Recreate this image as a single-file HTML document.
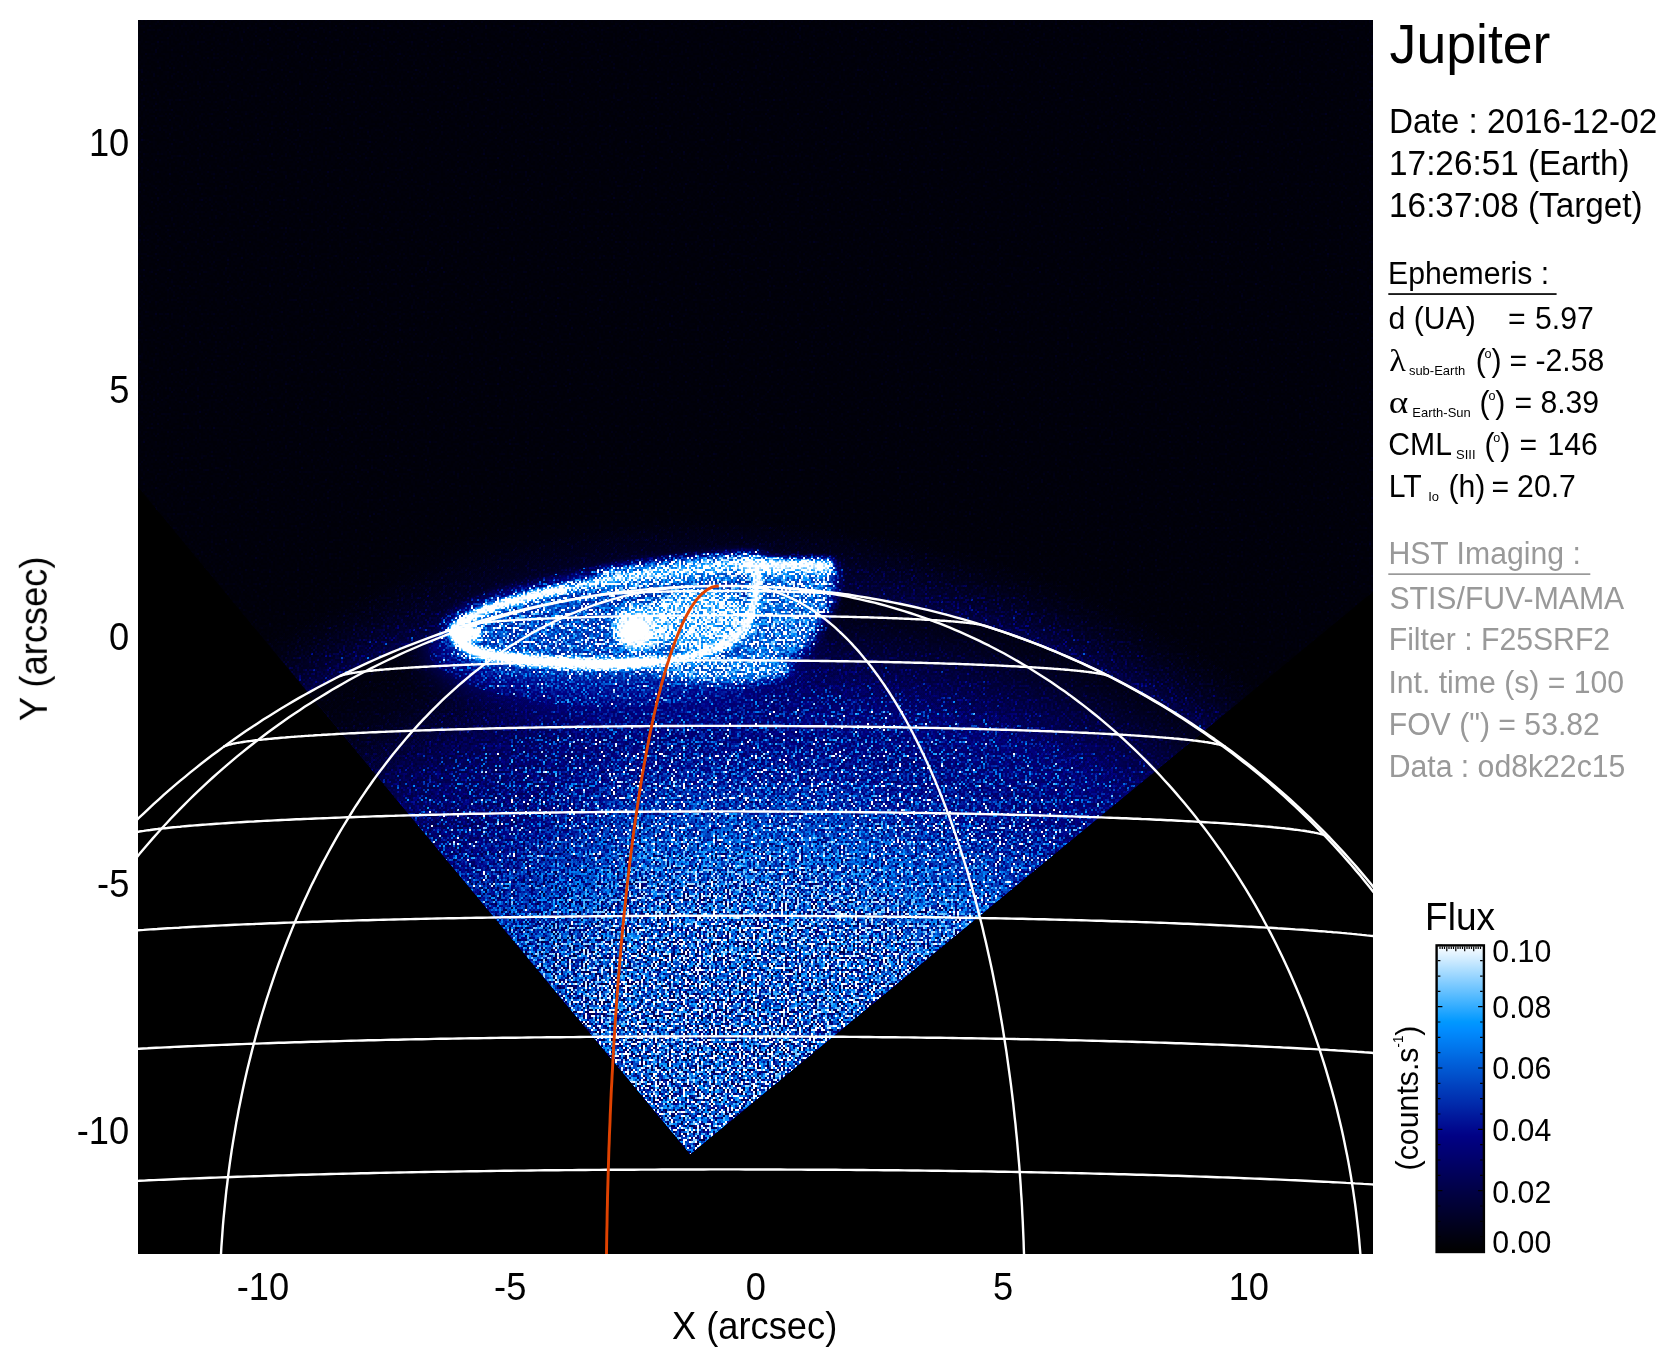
<!DOCTYPE html>
<html lang="en"><head><meta charset="utf-8"><title>Jupiter</title>
<style>
html,body{margin:0;padding:0;background:#fff;}
body{width:1676px;height:1367px;overflow:hidden;position:relative;}
svg{position:absolute;left:0;top:0;display:block;}
text{font-family:"Liberation Sans",sans-serif;}
.sym{font-family:"Liberation Serif","DejaVu Serif",serif;}
</style></head><body>
<svg width="1676" height="1367" viewBox="0 0 1676 1367">
<defs>
<clipPath id="plotclip"><rect x="138" y="20" width="1235" height="1234"/></clipPath>
<clipPath id="wedgeclip"><polygon points="-265.9,-1.2 690.2,1154.6 1847.6,200.5 1847.6,-500.0 -265.9,-500.0"/></clipPath>
<clipPath id="limbclip"><ellipse cx="724.5" cy="1346.4" rx="814.3" ry="760.5" transform="rotate(0.01 724.5 1346.4)"/></clipPath>
<filter id="noise" filterUnits="userSpaceOnUse" x="138" y="20" width="1235" height="1234" color-interpolation-filters="sRGB">
<feTurbulence type="fractalNoise" baseFrequency="0.43" numOctaves="1" seed="7" result="n0"/>
<feColorMatrix in="n0" type="matrix" values="1 0 0 0 0  0 0 0 0 0.1120  0 1 0 0 0  0 0 0 0 1" result="n1"/>
<feComponentTransfer in="n1" result="n"><feFuncR type="table" tableValues="0.000 0.000 0.000 0.000 0.000 0.000 0.000 0.000 0.000 0.000 0.000 0.000 0.001 0.002 0.004 0.007 0.012 0.020 0.030 0.044 0.062 0.086 0.116 0.153 0.198 0.252 0.316 0.393 0.482 0.586 0.706 0.843 1.000 1.000 1.000 1.000 1.000 1.000 1.000 1.000 1.000"/><feFuncB type="table" tableValues="0.000 0.000 0.000 0.000 0.000 0.000 0.000 0.000 0.000 0.000 0.000 0.000 0.000 0.000 0.000 0.000 0.083 0.188 0.292 0.396 0.500 0.604 0.708 0.813 0.917 1.000 1.000 1.000 1.000 1.000 1.000 1.000 1.000 1.000 1.000 1.000 1.000 1.000 1.000 1.000 1.000"/></feComponentTransfer>
<feFlood flood-color="#fff" x="138" y="20" width="1" height="1" result="d"/>
<feOffset in="d" dx="0" dy="0" x="138" y="20" width="2" height="2" result="cell"/>
<feTile in="cell" result="mask"/>
<feComposite in="n" in2="mask" operator="in" result="s"/>
<feConvolveMatrix in="s" order="2" kernelMatrix="1 1 1 1" divisor="1" targetX="0" targetY="0" edgeMode="none" preserveAlpha="false" result="ng"/>
<feComposite in="SourceGraphic" in2="ng" operator="arithmetic" k1="8.928" k2="0.000" k3="0" k4="0" result="v2"/>
<feColorMatrix in="v2" type="matrix" values="2 1 1 0 0  2 1 1 0 0  2 1 1 0 0  0 0 0 0 1" result="v"/>
<feComponentTransfer in="v">
<feFuncR type="table" tableValues="0.000 0.000 0.000 0.000 0.000 0.000 0.000 0.000 0.000 0.000 0.000 0.000 0.000 0.000 0.000 0.000 0.000 0.000 0.000 0.000 0.000 0.000 0.000 0.000 0.000 0.000 0.000 0.000 0.000 0.000 0.000 0.100 0.200 0.300 0.400 0.500 0.600 0.700 0.800 0.900 1.000"/>
<feFuncG type="table" tableValues="0.000 0.000 0.000 0.000 0.000 0.000 0.000 0.000 0.000 0.000 0.000 0.000 0.000 0.000 0.000 0.000 0.032 0.073 0.113 0.153 0.194 0.234 0.274 0.315 0.355 0.395 0.435 0.476 0.516 0.556 0.597 0.637 0.677 0.718 0.758 0.798 0.839 0.879 0.919 0.960 1.000"/>
<feFuncB type="table" tableValues="0.000 0.035 0.069 0.104 0.139 0.174 0.208 0.243 0.278 0.312 0.347 0.382 0.417 0.451 0.486 0.521 0.556 0.590 0.625 0.660 0.694 0.729 0.764 0.799 0.833 0.868 0.903 0.938 0.972 1.000 1.000 1.000 1.000 1.000 1.000 1.000 1.000 1.000 1.000 1.000 1.000"/>
</feComponentTransfer>
<feGaussianBlur stdDeviation="0.45"/>
</filter>
<filter id="b2" filterUnits="userSpaceOnUse" x="380" y="480" width="540" height="280"><feGaussianBlur stdDeviation="2"/></filter>
<filter id="b16" filterUnits="userSpaceOnUse" x="250" y="450" width="800" height="400"><feGaussianBlur stdDeviation="16"/></filter>
<filter id="bL" filterUnits="userSpaceOnUse" x="78" y="480" width="1355" height="500"><feGaussianBlur stdDeviation="9"/></filter>
<filter id="b3" filterUnits="userSpaceOnUse" x="380" y="480" width="540" height="280"><feGaussianBlur stdDeviation="3"/></filter>
<filter id="b6" filterUnits="userSpaceOnUse" x="380" y="480" width="540" height="280"><feGaussianBlur stdDeviation="6"/></filter>
<filter id="b4" filterUnits="userSpaceOnUse" x="380" y="480" width="540" height="280"><feGaussianBlur stdDeviation="4"/></filter>
<filter id="b8" filterUnits="userSpaceOnUse" x="380" y="480" width="540" height="280"><feGaussianBlur stdDeviation="8"/></filter>
<filter id="b20" filterUnits="userSpaceOnUse" x="38" y="300" width="1435" height="800"><feGaussianBlur stdDeviation="20"/></filter>
<radialGradient id="disc" gradientUnits="userSpaceOnUse" cx="724.5" cy="1346.4" r="814.3" gradientTransform="translate(0 1346.4) scale(1 0.9338) translate(0 -1346.4)">
<stop offset="0" stop-color="#033017"/>
<stop offset="0.55" stop-color="#043017"/>
<stop offset="0.62" stop-color="#0a3613"/>
<stop offset="0.68" stop-color="#16420a"/>
<stop offset="0.74" stop-color="#1b4204"/>
<stop offset="0.80" stop-color="#144201"/>
<stop offset="0.86" stop-color="#0e4001"/>
<stop offset="0.91" stop-color="#0a3d00"/>
<stop offset="0.95" stop-color="#083800"/>
<stop offset="1" stop-color="#062e00"/>
</radialGradient>
<radialGradient id="term" gradientUnits="userSpaceOnUse" cx="779.5" cy="1346.4" r="814.3" gradientTransform="translate(0 1346.4) scale(1 0.9338) translate(0 -1346.4)">
<stop offset="0" stop-color="#000" stop-opacity="0"/>
<stop offset="0.84" stop-color="#000" stop-opacity="0"/>
<stop offset="0.90" stop-color="#000" stop-opacity="0.35"/>
<stop offset="0.96" stop-color="#000" stop-opacity="0.7"/>
<stop offset="1" stop-color="#000" stop-opacity="0.8"/>
</radialGradient>
<radialGradient id="sky" gradientUnits="userSpaceOnUse" cx="724.5" cy="1346.4" r="912.0" gradientTransform="translate(0 1346.4) scale(1 0.9338) translate(0 -1346.4)">
<stop offset="0" stop-color="#092900"/>
<stop offset="0.8929" stop-color="#092900"/>
<stop offset="0.9036" stop-color="#082000"/>
<stop offset="0.9196" stop-color="#061600"/>
<stop offset="0.9420" stop-color="#030d00"/>
<stop offset="0.9687" stop-color="#010700"/>
<stop offset="1" stop-color="#010600"/>
</radialGradient>
<radialGradient id="glow">
<stop offset="0" stop-color="#011a00" stop-opacity="0.8"/>
<stop offset="0.5" stop-color="#011a00" stop-opacity="0.55"/>
<stop offset="0.8" stop-color="#011a00" stop-opacity="0.2"/>
<stop offset="1" stop-color="#011a00" stop-opacity="0"/>
</radialGradient>
<radialGradient id="ldim" gradientUnits="userSpaceOnUse" cx="420" cy="850" r="240">
<stop offset="0" stop-color="#000" stop-opacity="0.30"/>
<stop offset="0.5" stop-color="#000" stop-opacity="0.20"/>
<stop offset="1" stop-color="#000" stop-opacity="0"/>
</radialGradient>
<linearGradient id="cbar" x1="0" y1="1" x2="0" y2="0">
<stop offset="0.000" stop-color="#000000"/>
<stop offset="0.025" stop-color="#000008"/>
<stop offset="0.050" stop-color="#000011"/>
<stop offset="0.075" stop-color="#00001a"/>
<stop offset="0.100" stop-color="#000023"/>
<stop offset="0.125" stop-color="#00002c"/>
<stop offset="0.150" stop-color="#000035"/>
<stop offset="0.175" stop-color="#00003d"/>
<stop offset="0.200" stop-color="#000046"/>
<stop offset="0.225" stop-color="#00004f"/>
<stop offset="0.250" stop-color="#000058"/>
<stop offset="0.275" stop-color="#000061"/>
<stop offset="0.300" stop-color="#00006a"/>
<stop offset="0.325" stop-color="#000073"/>
<stop offset="0.350" stop-color="#00007b"/>
<stop offset="0.375" stop-color="#000084"/>
<stop offset="0.400" stop-color="#00088d"/>
<stop offset="0.425" stop-color="#001296"/>
<stop offset="0.450" stop-color="#001c9f"/>
<stop offset="0.475" stop-color="#0027a8"/>
<stop offset="0.500" stop-color="#0031b1"/>
<stop offset="0.525" stop-color="#003bb9"/>
<stop offset="0.550" stop-color="#0045c2"/>
<stop offset="0.575" stop-color="#0050cb"/>
<stop offset="0.600" stop-color="#005ad4"/>
<stop offset="0.625" stop-color="#0064dd"/>
<stop offset="0.650" stop-color="#006fe6"/>
<stop offset="0.675" stop-color="#0079ef"/>
<stop offset="0.700" stop-color="#0083f7"/>
<stop offset="0.725" stop-color="#008dff"/>
<stop offset="0.750" stop-color="#0098ff"/>
<stop offset="0.775" stop-color="#19a2ff"/>
<stop offset="0.800" stop-color="#33acff"/>
<stop offset="0.825" stop-color="#4cb7ff"/>
<stop offset="0.850" stop-color="#66c1ff"/>
<stop offset="0.875" stop-color="#7fcbff"/>
<stop offset="0.900" stop-color="#99d5ff"/>
<stop offset="0.925" stop-color="#b2e0ff"/>
<stop offset="0.950" stop-color="#cceaff"/>
<stop offset="0.975" stop-color="#e5f4ff"/>
<stop offset="1.000" stop-color="#ffffff"/>
</linearGradient>
</defs>
<rect x="0" y="0" width="1676" height="1367" fill="#fff"/>
<rect x="138" y="20" width="1235" height="1234" fill="#000"/>
<g clip-path="url(#plotclip)">
<g filter="url(#noise)">
<rect x="138" y="20" width="1235" height="1234" fill="#000"/>
<polygon points="-265.9,-1.2 690.2,1154.6 1847.6,200.5 1847.6,-500.0 -265.9,-500.0" fill="url(#sky)"/>
<g clip-path="url(#wedgeclip)"><ellipse cx="665" cy="600" rx="300" ry="85" fill="url(#glow)"/></g>
<g clip-path="url(#limbclip)"><g clip-path="url(#wedgeclip)"><polygon points="-265.9,-1.2 690.2,1154.6 1847.6,200.5 1847.6,-500.0 -265.9,-500.0" fill="url(#disc)"/>
<polygon points="-265.9,-1.2 690.2,1154.6 1847.6,200.5 1847.6,-500.0 -265.9,-500.0" fill="url(#term)"/>
<polygon points="-265.9,-1.2 690.2,1154.6 1847.6,200.5 1847.6,-500.0 -265.9,-500.0" fill="url(#ldim)"/>
<ellipse cx="615" cy="645" rx="190" ry="62" fill="#116600" filter="url(#b16)"/>
</g></g>
<g id="aurora">
<path d="M453 629 C462 620 480 611 506 603 C535 595 590 583 620 578.5 C660 572.5 720 565 757 565 C758 585 755 605 749 620 C742 636 725 647 700 654 C680 660 640 664 606 664 C560 664 495 658 477 652 C466 648 458 641 453 629 Z" fill="#246e00" stroke="#246e00" stroke-width="20" filter="url(#b6)"/>
<path d="M757 566 L838 566 L832 606 L806 650 L740 670 Z" fill="#298000" filter="url(#b6)"/>
<ellipse cx="722" cy="668" rx="70" ry="13" fill="#338c00" filter="url(#b4)"/>
<ellipse cx="700" cy="620" rx="52" ry="30" fill="#4ca800" filter="url(#b4)"/>
<path d="M600 581 C660 572.5 720 565 757 565" fill="none" stroke="#409100" stroke-width="20" filter="url(#b4)"/>
<path d="M453 629 C462 620 480 611 506 603 C535 595 590 583 620 578.5 C660 572.5 720 565 757 565" fill="none" stroke="#4cbd00" stroke-width="6.5" filter="url(#b2)"/>
<path d="M453 629 C462 620 480 611 506 603 C525 597.5 545 593 566 588.5" fill="none" stroke="#4cff00" stroke-width="6" filter="url(#b2)"/>
<path d="M453 629 C458 641 466 648 477 652 C495 658 560 664 606 664 C640 664 680 660 700 654 C725 647 742 636 749 620 C755 605 758 585 757 565" fill="none" stroke="#4cf500" stroke-width="8" filter="url(#b2)"/>
<path d="M453 629 C458 641 466 648 477 652 C495 658 560 664 606 664 C625 664 640 663 655 661.5" fill="none" stroke="#4cff00" stroke-width="9" filter="url(#b2)"/>
<ellipse cx="468" cy="633" rx="13" ry="9" fill="#4cff00" filter="url(#b3)"/>
<path d="M742 565 L832 566" fill="none" stroke="#4ceb00" stroke-width="12" filter="url(#b3)"/>
<ellipse cx="640" cy="628" rx="27" ry="22" fill="#4cc200" filter="url(#b4)"/>
<ellipse cx="635" cy="631" rx="16" ry="14" fill="#4cff00" filter="url(#b3)"/>
</g>
</g>
<g fill="none" stroke="#fff" stroke-width="2.4" stroke-linecap="butt" stroke-linejoin="round">
<path d="M1538.8 1346.5 L1538.8 1339.9 L1538.7 1333.3 L1538.5 1326.6 L1538.3 1320.0 L1538.0 1313.4 L1537.7 1306.7 L1537.3 1300.1 L1536.8 1293.5 L1536.3 1286.9 L1535.7 1280.3 L1535.0 1273.6 L1534.3 1267.0 L1533.6 1260.4 L1532.7 1253.9 L1531.8 1247.3 L1530.9 1240.7 L1529.9 1234.1 L1528.8 1227.6 L1527.6 1221.0 L1526.4 1214.5 L1525.2 1207.9 L1523.8 1201.4 L1522.5 1194.9 L1521.0 1188.4 L1519.5 1181.9 L1517.9 1175.5 L1516.3 1169.0 L1514.6 1162.6 L1512.9 1156.1 L1511.1 1149.7 L1509.2 1143.3 L1507.3 1136.9 L1505.3 1130.5 L1503.2 1124.2 L1501.1 1117.9 L1499.0 1111.5 L1496.7 1105.2 L1494.5 1098.9 L1492.1 1092.7 L1489.7 1086.4 L1487.3 1080.2 L1484.7 1074.0 L1482.2 1067.8 L1479.5 1061.6 L1476.8 1055.5 L1474.1 1049.4 L1471.3 1043.3 L1468.4 1037.2 L1465.5 1031.2 L1462.5 1025.1 L1459.5 1019.1 L1456.4 1013.2 L1453.3 1007.2 L1450.1 1001.3 L1446.8 995.4 L1443.5 989.5 L1440.2 983.7 L1436.7 977.8 L1433.3 972.0 L1429.7 966.3 L1426.2 960.5 L1422.5 954.8 L1418.9 949.2 L1415.1 943.5 L1411.3 937.9 L1407.5 932.3 L1403.6 926.8 L1399.6 921.3 L1395.6 915.8 L1391.6 910.3 L1387.5 904.9 L1383.3 899.5 L1379.1 894.2 L1374.9 888.8 L1370.6 883.6 L1366.2 878.3 L1361.8 873.1 L1357.4 867.9 L1352.9 862.8 L1348.4 857.7 L1343.8 852.6 L1339.1 847.6 L1334.4 842.6 L1329.7 837.6 L1324.9 832.7 L1320.1 827.9 L1315.2 823.0 L1310.3 818.2 L1305.4 813.5 L1300.4 808.8 L1295.3 804.1 L1290.2 799.5 L1285.1 794.9 L1279.9 790.3 L1274.7 785.8 L1269.4 781.3 L1264.1 776.9 L1258.8 772.6 L1253.4 768.2 L1248.0 763.9 L1242.5 759.7 L1237.0 755.5 L1231.5 751.3 L1225.9 747.2 L1220.3 743.2 L1214.6 739.1 L1208.9 735.2 L1203.2 731.2 L1197.4 727.4 L1191.6 723.5 L1185.8 719.8 L1179.9 716.0 L1174.0 712.3 L1168.1 708.7 L1162.1 705.1 L1156.1 701.6 L1150.1 698.1 L1144.0 694.6 L1137.9 691.2 L1131.7 687.9 L1125.6 684.6 L1119.4 681.3 L1113.1 678.1 L1106.9 675.0 L1100.6 671.9 L1094.3 668.9 L1087.9 665.9 L1081.6 663.0 L1075.2 660.1 L1068.7 657.2 L1062.3 654.5 L1055.8 651.7 L1049.3 649.1 L1042.8 646.4 L1036.2 643.9 L1029.6 641.4 L1023.0 638.9 L1016.4 636.5 L1009.8 634.1 L1003.1 631.8 L996.4 629.6 L989.7 627.4 L983.0 625.3 L976.2 623.2 L969.5 621.2 L962.7 619.2 L955.9 617.3 L949.0 615.4 L942.2 613.6 L935.4 611.9 L928.5 610.2 L921.6 608.6 L914.7 607.0 L907.8 605.5 L900.8 604.0 L893.9 602.6 L886.9 601.2 L880.0 599.9 L873.0 598.7 L866.0 597.5 L859.0 596.4 L852.0 595.3 L845.0 594.3 L837.9 593.3 L830.9 592.5 L823.8 591.6 L816.8 590.8 L809.7 590.1 L802.6 589.4 L795.6 588.8 L788.5 588.3 L781.4 587.8 L774.3 587.4 L767.2 587.0 L760.1 586.7 L753.0 586.4 L745.9 586.2 L738.8 586.0 L731.7 586.0 L724.6 585.9 L717.5 586.0 L710.4 586.0 L703.3 586.2 L696.2 586.4 L689.1 586.6 L682.0 587.0 L674.9 587.3 L667.8 587.8 L660.7 588.3 L653.6 588.8 L646.5 589.4 L639.5 590.1 L632.4 590.8 L625.4 591.6 L618.3 592.4 L611.3 593.3 L604.2 594.3 L597.2 595.3 L590.2 596.3 L583.2 597.5 L576.2 598.6 L569.2 599.9 L562.2 601.2 L555.3 602.5 L548.3 603.9 L541.4 605.4 L534.5 606.9 L527.6 608.5 L520.7 610.1 L513.8 611.8 L507.0 613.6 L500.1 615.4 L493.3 617.2 L486.5 619.1 L479.7 621.1 L473.0 623.1 L466.2 625.2 L459.5 627.3 L452.8 629.5 L446.1 631.7 L439.4 634.0 L432.8 636.4 L426.1 638.8 L419.5 641.3 L413.0 643.8 L406.4 646.3 L399.9 649.0 L393.4 651.6 L386.9 654.4 L380.4 657.1 L374.0 660.0 L367.6 662.8 L361.2 665.8 L354.9 668.8 L348.6 671.8 L342.3 674.9 L336.0 678.0 L329.8 681.2 L323.6 684.5 L317.4 687.8 L311.3 691.1 L305.2 694.5 L299.1 697.9 L293.1 701.4 L287.0 705.0 L281.1 708.5 L275.1 712.2 L269.2 715.9 L263.3 719.6 L257.5 723.4 L251.7 727.2 L245.9 731.1 L240.2 735.0 L234.5 739.0 L228.9 743.0 L223.2 747.1 L217.7 751.2 L212.1 755.3 L206.6 759.5 L201.1 763.8 L195.7 768.1 L190.3 772.4 L185.0 776.8 L179.7 781.2 L174.4 785.6 L169.2 790.1 L164.0 794.7 L158.9 799.3 L153.8 803.9 L148.8 808.6 L143.8 813.3 L138.8 818.0 L133.9 822.8 L129.0 827.7 L124.2 832.5 L119.4 837.5 L114.7 842.4 L110.0 847.4 L105.3 852.4 L100.8 857.5 L96.2 862.6 L91.7 867.7 L87.3 872.9 L82.9 878.1 L78.5 883.4 L74.2 888.6 L70.0 894.0 L65.8 899.3 L61.6 904.7 L57.5 910.1 L53.5 915.6 L49.5 921.0 L45.5 926.6 L41.6 932.1 L37.8 937.7 L34.0 943.3 L30.2 949.0 L26.5 954.6 L22.9 960.3 L19.3 966.1 L15.8 971.8 L12.3 977.6 L8.9 983.4 L5.5 989.3 L2.2 995.1 L-1.0 1001.0 L-4.2 1007.0 L-7.4 1012.9 L-10.5 1018.9 L-13.5 1024.9 L-16.5 1030.9 L-19.4 1037.0 L-22.2 1043.1 L-25.1 1049.1 L-27.8 1055.3 L-30.5 1061.4 L-33.1 1067.6 L-35.7 1073.8 L-38.2 1080.0 L-40.7 1086.2 L-43.1 1092.4 L-45.4 1098.7 L-47.7 1105.0 L-49.9 1111.3 L-52.1 1117.6 L-54.2 1123.9 L-56.3 1130.3 L-58.3 1136.7 L-60.2 1143.1 L-62.1 1149.5 L-63.9 1155.9 L-65.6 1162.3 L-67.3 1168.8 L-68.9 1175.2 L-70.5 1181.7 L-72.0 1188.2 L-73.5 1194.7 L-74.8 1201.2 L-76.2 1207.7 L-77.4 1214.2 L-78.6 1220.8 L-79.8 1227.3 L-80.9 1233.9 L-81.9 1240.4 L-82.9 1247.0 L-83.7 1253.6 L-84.6 1260.2 L-85.4 1266.8 L-86.1 1273.4 L-86.7 1280.0 L-87.3 1286.6 L-87.8 1293.2 L-88.3 1299.9 L-88.7 1306.5 L-89.1 1313.1 L-89.3 1319.7 L-89.6 1326.4 L-89.7 1333.0 L-89.8 1339.6 L-89.8 1346.3 L-89.8 1352.9 L-89.7 1359.6 L-89.6 1366.2 L-89.3 1372.8 L-89.1 1379.5 L-88.7 1386.1 L-88.3 1392.7 L-87.9 1399.3 L-87.3 1405.9 L-86.7 1412.6 L-86.1 1419.2 L-85.4 1425.8 L-84.6 1432.4 L-83.8 1439.0 L-82.9 1445.5 L-81.9 1452.1 L-80.9 1458.7 L-79.8 1465.2 L-78.7 1471.8 L-77.5 1478.3 L-76.2 1484.9 L-74.9 1491.4 L-73.5 1497.9 L-72.1 1504.4 L-70.6 1510.9 L-69.0 1517.4 L-67.4 1523.8 L-65.7 1530.3 L-63.9 1536.7 L-62.1 1543.1 L-60.2 1549.5 L-58.3 1555.9 L-56.3 1562.3 M1505.2 1562.5 L1507.2 1556.1 L1509.1 1549.8 L1511.0 1543.4 L1512.8 1536.9 L1514.6 1530.5 L1516.3 1524.1 L1517.9 1517.6 L1519.5 1511.1 L1521.0 1504.6 L1522.4 1498.1 L1523.8 1491.6 L1525.1 1485.1 L1526.4 1478.6 L1527.6 1472.0 L1528.7 1465.5 L1529.8 1458.9 L1530.8 1452.4 L1531.8 1445.8 L1532.7 1439.2 L1533.5 1432.6 L1534.3 1426.0 L1535.0 1419.4 L1535.7 1412.8 L1536.3 1406.2 L1536.8 1399.6 L1537.3 1393.0 L1537.7 1386.3 L1538.0 1379.7 L1538.3 1373.1 L1538.5 1366.4 L1538.7 1359.8 L1538.8 1353.2 L1538.8 1346.5"/>
<path d="M-75.5 1204.7 L-75.4 1204.4 L-75.2 1204.1 L-74.9 1203.8 L-74.6 1203.4 L-74.2 1203.1 L-73.7 1202.8 L-73.2 1202.5 L-72.6 1202.2 L-72.0 1201.9 L-71.3 1201.6 L-70.5 1201.3 L-69.7 1200.9 L-68.8 1200.6 L-67.9 1200.3 L-66.9 1200.0 L-65.8 1199.7 L-64.7 1199.4 L-63.5 1199.1 L-62.3 1198.8 L-61.0 1198.5 L-59.6 1198.2 L-58.2 1197.8 L-56.7 1197.5 L-55.2 1197.2 L-53.6 1196.9 L-51.9 1196.6 L-50.2 1196.3 L-48.4 1196.0 L-46.6 1195.7 L-44.7 1195.4 L-42.7 1195.1 L-40.7 1194.8 L-38.6 1194.5 L-36.5 1194.2 L-34.3 1193.9 L-32.1 1193.6 L-29.8 1193.3 L-27.4 1193.0 L-25.0 1192.7 L-22.5 1192.4 L-20.0 1192.1 L-17.4 1191.9 L-14.8 1191.6 L-12.1 1191.3 L-9.3 1191.0 L-6.5 1190.7 L-3.6 1190.4 L-0.7 1190.1 L2.3 1189.8 L5.3 1189.6 L8.4 1189.3 L11.5 1189.0 L14.7 1188.7 L18.0 1188.4 L21.3 1188.2 L24.7 1187.9 L28.1 1187.6 L31.5 1187.3 L35.1 1187.1 L38.6 1186.8 L42.2 1186.5 L45.9 1186.3 L49.6 1186.0 L53.4 1185.7 L57.3 1185.5 L61.1 1185.2 L65.1 1185.0 L69.0 1184.7 L73.1 1184.4 L77.2 1184.2 L81.3 1183.9 L85.5 1183.7 L89.7 1183.4 L94.0 1183.2 L98.3 1182.9 L102.7 1182.7 L107.1 1182.5 L111.5 1182.2 L116.1 1182.0 L120.6 1181.7 L125.2 1181.5 L129.9 1181.3 L134.6 1181.0 L139.3 1180.8 L144.1 1180.6 L148.9 1180.3 L153.8 1180.1 L158.7 1179.9 L163.7 1179.7 L168.7 1179.5 L173.7 1179.2 L178.8 1179.0 L183.9 1178.8 L189.1 1178.6 L194.3 1178.4 L199.5 1178.2 L204.8 1178.0 L210.2 1177.8 L215.5 1177.6 L220.9 1177.4 L226.4 1177.2 L231.9 1177.0 L237.4 1176.8 L243.0 1176.6 L248.5 1176.4 L254.2 1176.2 L259.8 1176.1 L265.5 1175.9 L271.3 1175.7 L277.1 1175.5 L282.9 1175.4 L288.7 1175.2 L294.6 1175.0 L300.5 1174.8 L306.4 1174.7 L312.4 1174.5 L318.4 1174.4 L324.4 1174.2 L330.5 1174.0 L336.6 1173.9 L342.7 1173.7 L348.8 1173.6 L355.0 1173.5 L361.2 1173.3 L367.5 1173.2 L373.7 1173.0 L380.0 1172.9 L386.3 1172.8 L392.7 1172.6 L399.0 1172.5 L405.4 1172.4 L411.9 1172.3 L418.3 1172.1 L424.8 1172.0 L431.2 1171.9 L437.7 1171.8 L444.3 1171.7 L450.8 1171.6 L457.4 1171.5 L464.0 1171.4 L470.6 1171.3 L477.2 1171.2 L483.9 1171.1 L490.6 1171.0 L497.2 1170.9 L503.9 1170.8 L510.7 1170.7 L517.4 1170.6 L524.2 1170.6 L530.9 1170.5 L537.7 1170.4 L544.5 1170.3 L551.3 1170.3 L558.1 1170.2 L565.0 1170.1 L571.8 1170.1 L578.7 1170.0 L585.6 1170.0 L592.4 1169.9 L599.3 1169.9 L606.2 1169.8 L613.1 1169.8 L620.1 1169.7 L627.0 1169.7 L633.9 1169.7 L640.9 1169.6 L647.8 1169.6 L654.8 1169.6 L661.7 1169.5 L668.7 1169.5 L675.7 1169.5 L682.6 1169.5 L689.6 1169.5 L696.6 1169.5 L703.6 1169.5 L710.5 1169.4 L717.5 1169.4 L724.5 1169.4 L731.5 1169.4 L738.5 1169.4 L745.5 1169.5 L752.4 1169.5 L759.4 1169.5 L766.4 1169.5 L773.4 1169.5 L780.3 1169.5 L787.3 1169.6 L794.2 1169.6 L801.2 1169.6 L808.1 1169.7 L815.1 1169.7 L822.0 1169.7 L828.9 1169.8 L835.9 1169.8 L842.8 1169.9 L849.7 1169.9 L856.6 1170.0 L863.5 1170.0 L870.3 1170.1 L877.2 1170.1 L884.0 1170.2 L890.9 1170.3 L897.7 1170.3 L904.5 1170.4 L911.3 1170.5 L918.1 1170.5 L924.9 1170.6 L931.6 1170.7 L938.3 1170.8 L945.1 1170.9 L951.8 1171.0 L958.5 1171.1 L965.1 1171.1 L971.8 1171.2 L978.4 1171.3 L985.0 1171.4 L991.6 1171.5 L998.2 1171.7 L1004.7 1171.8 L1011.3 1171.9 L1017.8 1172.0 L1024.3 1172.1 L1030.7 1172.2 L1037.2 1172.4 L1043.6 1172.5 L1050.0 1172.6 L1056.3 1172.7 L1062.7 1172.9 L1069.0 1173.0 L1075.3 1173.1 L1081.5 1173.3 L1087.8 1173.4 L1094.0 1173.6 L1100.2 1173.7 L1106.3 1173.9 L1112.4 1174.0 L1118.5 1174.2 L1124.6 1174.3 L1130.6 1174.5 L1136.6 1174.7 L1142.6 1174.8 L1148.5 1175.0 L1154.4 1175.1 L1160.3 1175.3 L1166.1 1175.5 L1172.0 1175.7 L1177.7 1175.8 L1183.5 1176.0 L1189.2 1176.2 L1194.8 1176.4 L1200.5 1176.6 L1206.1 1176.8 L1211.6 1177.0 L1217.1 1177.2 L1222.6 1177.4 L1228.1 1177.5 L1233.5 1177.7 L1238.8 1177.9 L1244.2 1178.2 L1249.5 1178.4 L1254.7 1178.6 L1259.9 1178.8 L1265.1 1179.0 L1270.2 1179.2 L1275.3 1179.4 L1280.3 1179.6 L1285.3 1179.9 L1290.3 1180.1 L1295.2 1180.3 L1300.1 1180.5 L1304.9 1180.8 L1309.7 1181.0 L1314.4 1181.2 L1319.1 1181.5 L1323.8 1181.7 L1328.4 1181.9 L1333.0 1182.2 L1337.5 1182.4 L1341.9 1182.6 L1346.3 1182.9 L1350.7 1183.1 L1355.0 1183.4 L1359.3 1183.6 L1363.5 1183.9 L1367.7 1184.1 L1371.9 1184.4 L1375.9 1184.6 L1380.0 1184.9 L1383.9 1185.2 L1387.9 1185.4 L1391.8 1185.7 L1395.6 1185.9 L1399.4 1186.2 L1403.1 1186.5 L1406.8 1186.7 L1410.4 1187.0 L1413.9 1187.3 L1417.5 1187.6 L1420.9 1187.8 L1424.3 1188.1 L1427.7 1188.4 L1431.0 1188.7 L1434.3 1188.9 L1437.5 1189.2 L1440.6 1189.5 L1443.7 1189.8 L1446.7 1190.1 L1449.7 1190.4 L1452.6 1190.6 L1455.5 1190.9 L1458.3 1191.2 L1461.1 1191.5 L1463.8 1191.8 L1466.4 1192.1 L1469.0 1192.4 L1471.5 1192.7 L1474.0 1193.0 L1476.4 1193.3 L1478.8 1193.6 L1481.1 1193.9 L1483.3 1194.2 L1485.5 1194.4 L1487.6 1194.7 L1489.7 1195.0 L1491.7 1195.4 L1493.7 1195.7 L1495.6 1196.0 L1497.4 1196.3 L1499.2 1196.6 L1500.9 1196.9 L1502.6 1197.2 L1504.2 1197.5 L1505.7 1197.8 L1507.2 1198.1 L1508.6 1198.4 L1510.0 1198.7 L1511.3 1199.0 L1512.5 1199.3 L1513.7 1199.6 L1514.8 1200.0 L1515.9 1200.3 L1516.9 1200.6 L1517.8 1200.9 L1518.7 1201.2 L1519.5 1201.5 L1520.3 1201.8 L1521.0 1202.1 L1521.6 1202.4 L1522.2 1202.8 L1522.7 1203.1 L1523.2 1203.4 L1523.6 1203.7 L1523.9 1204.0 L1524.2 1204.3 L1524.4 1204.6 L1524.5 1205.0"/>
<path d="M-33.9 1069.5 L-33.7 1069.2 L-33.5 1068.9 L-33.1 1068.6 L-32.8 1068.3 L-32.3 1068.0 L-31.8 1067.7 L-31.3 1067.4 L-30.7 1067.1 L-30.0 1066.9 L-29.3 1066.6 L-28.5 1066.3 L-27.7 1066.0 L-26.8 1065.7 L-25.9 1065.4 L-24.8 1065.1 L-23.8 1064.8 L-22.7 1064.5 L-21.5 1064.2 L-20.2 1063.9 L-19.0 1063.6 L-17.6 1063.3 L-16.2 1063.0 L-14.7 1062.7 L-13.2 1062.5 L-11.7 1062.2 L-10.0 1061.9 L-8.3 1061.6 L-6.6 1061.3 L-4.8 1061.0 L-2.9 1060.7 L-1.0 1060.4 L0.9 1060.2 L2.9 1059.9 L5.0 1059.6 L7.1 1059.3 L9.3 1059.0 L11.6 1058.7 L13.9 1058.5 L16.2 1058.2 L18.6 1057.9 L21.1 1057.6 L23.6 1057.4 L26.1 1057.1 L28.7 1056.8 L31.4 1056.5 L34.1 1056.3 L36.9 1056.0 L39.7 1055.7 L42.6 1055.5 L45.5 1055.2 L48.5 1054.9 L51.5 1054.7 L54.6 1054.4 L57.8 1054.1 L60.9 1053.9 L64.2 1053.6 L67.5 1053.4 L70.8 1053.1 L74.2 1052.8 L77.6 1052.6 L81.1 1052.3 L84.6 1052.1 L88.2 1051.8 L91.8 1051.6 L95.5 1051.3 L99.3 1051.1 L103.0 1050.9 L106.8 1050.6 L110.7 1050.4 L114.6 1050.1 L118.6 1049.9 L122.6 1049.7 L126.7 1049.4 L130.8 1049.2 L134.9 1049.0 L139.1 1048.7 L143.3 1048.5 L147.6 1048.3 L151.9 1048.0 L156.3 1047.8 L160.7 1047.6 L165.1 1047.4 L169.6 1047.2 L174.2 1046.9 L178.8 1046.7 L183.4 1046.5 L188.0 1046.3 L192.7 1046.1 L197.5 1045.9 L202.3 1045.7 L207.1 1045.5 L211.9 1045.3 L216.8 1045.1 L221.8 1044.9 L226.8 1044.7 L231.8 1044.5 L236.8 1044.3 L241.9 1044.1 L247.1 1043.9 L252.2 1043.7 L257.4 1043.6 L262.7 1043.4 L267.9 1043.2 L273.2 1043.0 L278.6 1042.8 L283.9 1042.7 L289.3 1042.5 L294.8 1042.3 L300.3 1042.2 L305.8 1042.0 L311.3 1041.8 L316.9 1041.7 L322.5 1041.5 L328.1 1041.4 L333.8 1041.2 L339.5 1041.1 L345.2 1040.9 L350.9 1040.8 L356.7 1040.6 L362.5 1040.5 L368.3 1040.3 L374.2 1040.2 L380.1 1040.1 L386.0 1039.9 L391.9 1039.8 L397.9 1039.7 L403.9 1039.5 L409.9 1039.4 L415.9 1039.3 L422.0 1039.2 L428.1 1039.1 L434.2 1038.9 L440.3 1038.8 L446.5 1038.7 L452.6 1038.6 L458.8 1038.5 L465.0 1038.4 L471.3 1038.3 L477.5 1038.2 L483.8 1038.1 L490.1 1038.0 L496.4 1037.9 L502.7 1037.8 L509.0 1037.8 L515.4 1037.7 L521.8 1037.6 L528.2 1037.5 L534.6 1037.4 L541.0 1037.4 L547.4 1037.3 L553.9 1037.2 L560.3 1037.2 L566.8 1037.1 L573.3 1037.1 L579.8 1037.0 L586.3 1036.9 L592.8 1036.9 L599.3 1036.8 L605.8 1036.8 L612.4 1036.7 L618.9 1036.7 L625.5 1036.7 L632.1 1036.6 L638.6 1036.6 L645.2 1036.6 L651.8 1036.5 L658.4 1036.5 L665.0 1036.5 L671.6 1036.5 L678.2 1036.4 L684.8 1036.4 L691.4 1036.4 L698.0 1036.4 L704.7 1036.4 L711.3 1036.4 L717.9 1036.4 L724.5 1036.4 L731.1 1036.4 L737.8 1036.4 L744.4 1036.4 L751.0 1036.4 L757.6 1036.4 L764.2 1036.4 L770.8 1036.5 L777.5 1036.5 L784.1 1036.5 L790.7 1036.5 L797.2 1036.6 L803.8 1036.6 L810.4 1036.6 L817.0 1036.7 L823.6 1036.7 L830.1 1036.7 L836.7 1036.8 L843.2 1036.8 L849.7 1036.9 L856.3 1036.9 L862.8 1037.0 L869.3 1037.0 L875.8 1037.1 L882.3 1037.2 L888.7 1037.2 L895.2 1037.3 L901.6 1037.4 L908.1 1037.4 L914.5 1037.5 L920.9 1037.6 L927.3 1037.7 L933.7 1037.7 L940.0 1037.8 L946.4 1037.9 L952.7 1038.0 L959.0 1038.1 L965.3 1038.2 L971.5 1038.3 L977.8 1038.4 L984.0 1038.5 L990.2 1038.6 L996.4 1038.7 L1002.6 1038.8 L1008.7 1038.9 L1014.9 1039.0 L1021.0 1039.2 L1027.1 1039.3 L1033.1 1039.4 L1039.2 1039.5 L1045.2 1039.6 L1051.2 1039.8 L1057.1 1039.9 L1063.1 1040.0 L1069.0 1040.2 L1074.9 1040.3 L1080.7 1040.4 L1086.5 1040.6 L1092.4 1040.7 L1098.1 1040.9 L1103.9 1041.0 L1109.6 1041.2 L1115.3 1041.3 L1120.9 1041.5 L1126.6 1041.6 L1132.2 1041.8 L1137.7 1042.0 L1143.3 1042.1 L1148.8 1042.3 L1154.3 1042.5 L1159.7 1042.6 L1165.1 1042.8 L1170.5 1043.0 L1175.8 1043.2 L1181.1 1043.3 L1186.4 1043.5 L1191.6 1043.7 L1196.8 1043.9 L1202.0 1044.1 L1207.1 1044.3 L1212.2 1044.5 L1217.3 1044.6 L1222.3 1044.8 L1227.3 1045.0 L1232.2 1045.2 L1237.1 1045.4 L1242.0 1045.6 L1246.8 1045.8 L1251.6 1046.1 L1256.3 1046.3 L1261.0 1046.5 L1265.7 1046.7 L1270.3 1046.9 L1274.9 1047.1 L1279.4 1047.3 L1283.9 1047.6 L1288.4 1047.8 L1292.8 1048.0 L1297.1 1048.2 L1301.5 1048.5 L1305.7 1048.7 L1310.0 1048.9 L1314.2 1049.1 L1318.3 1049.4 L1322.4 1049.6 L1326.4 1049.8 L1330.5 1050.1 L1334.4 1050.3 L1338.3 1050.6 L1342.2 1050.8 L1346.0 1051.0 L1349.8 1051.3 L1353.5 1051.5 L1357.2 1051.8 L1360.8 1052.0 L1364.4 1052.3 L1367.9 1052.5 L1371.4 1052.8 L1374.9 1053.1 L1378.2 1053.3 L1381.6 1053.6 L1384.9 1053.8 L1388.1 1054.1 L1391.3 1054.3 L1394.4 1054.6 L1397.5 1054.9 L1400.5 1055.1 L1403.5 1055.4 L1406.4 1055.7 L1409.3 1055.9 L1412.1 1056.2 L1414.9 1056.5 L1417.6 1056.8 L1420.3 1057.0 L1422.9 1057.3 L1425.5 1057.6 L1428.0 1057.9 L1430.4 1058.1 L1432.8 1058.4 L1435.2 1058.7 L1437.5 1059.0 L1439.7 1059.3 L1441.9 1059.5 L1444.0 1059.8 L1446.1 1060.1 L1448.1 1060.4 L1450.1 1060.7 L1452.0 1061.0 L1453.8 1061.2 L1455.6 1061.5 L1457.4 1061.8 L1459.1 1062.1 L1460.7 1062.4 L1462.3 1062.7 L1463.8 1063.0 L1465.2 1063.3 L1466.7 1063.6 L1468.0 1063.8 L1469.3 1064.1 L1470.5 1064.4 L1471.7 1064.7 L1472.8 1065.0 L1473.9 1065.3 L1474.9 1065.6 L1475.8 1065.9 L1476.7 1066.2 L1477.6 1066.5 L1478.4 1066.8 L1479.1 1067.1 L1479.7 1067.4 L1480.3 1067.7 L1480.9 1068.0 L1481.4 1068.3 L1481.8 1068.6 L1482.2 1068.9 L1482.5 1069.2 L1482.8 1069.5 L1483.0 1069.8"/>
<path d="M32.4 945.7 L32.6 945.5 L32.9 945.2 L33.2 944.9 L33.6 944.7 L34.1 944.4 L34.6 944.1 L35.1 943.8 L35.7 943.6 L36.4 943.3 L37.1 943.0 L37.9 942.8 L38.7 942.5 L39.5 942.2 L40.5 942.0 L41.4 941.7 L42.5 941.4 L43.5 941.1 L44.7 940.9 L45.8 940.6 L47.1 940.3 L48.4 940.1 L49.7 939.8 L51.1 939.6 L52.5 939.3 L54.0 939.0 L55.5 938.8 L57.1 938.5 L58.8 938.2 L60.5 938.0 L62.2 937.7 L64.0 937.5 L65.8 937.2 L67.7 936.9 L69.7 936.7 L71.7 936.4 L73.7 936.2 L75.8 935.9 L77.9 935.7 L80.1 935.4 L82.4 935.2 L84.7 934.9 L87.0 934.7 L89.4 934.4 L91.8 934.2 L94.3 933.9 L96.8 933.7 L99.4 933.4 L102.0 933.2 L104.7 932.9 L107.4 932.7 L110.2 932.4 L113.0 932.2 L115.9 932.0 L118.8 931.7 L121.7 931.5 L124.7 931.3 L127.8 931.0 L130.9 930.8 L134.0 930.6 L137.2 930.3 L140.4 930.1 L143.7 929.9 L147.0 929.6 L150.3 929.4 L153.7 929.2 L157.2 929.0 L160.7 928.7 L164.2 928.5 L167.8 928.3 L171.4 928.1 L175.1 927.9 L178.8 927.7 L182.5 927.4 L186.3 927.2 L190.1 927.0 L194.0 926.8 L197.9 926.6 L201.8 926.4 L205.8 926.2 L209.8 926.0 L213.9 925.8 L218.0 925.6 L222.1 925.4 L226.3 925.2 L230.5 925.0 L234.8 924.8 L239.1 924.6 L243.4 924.4 L247.8 924.2 L252.2 924.1 L256.6 923.9 L261.1 923.7 L265.6 923.5 L270.2 923.3 L274.7 923.2 L279.3 923.0 L284.0 922.8 L288.7 922.6 L293.4 922.5 L298.1 922.3 L302.9 922.1 L307.7 922.0 L312.6 921.8 L317.4 921.7 L322.3 921.5 L327.3 921.3 L332.2 921.2 L337.2 921.0 L342.3 920.9 L347.3 920.7 L352.4 920.6 L357.5 920.4 L362.7 920.3 L367.8 920.2 L373.0 920.0 L378.2 919.9 L383.5 919.7 L388.8 919.6 L394.1 919.5 L399.4 919.4 L404.7 919.2 L410.1 919.1 L415.5 919.0 L420.9 918.9 L426.4 918.8 L431.8 918.6 L437.3 918.5 L442.8 918.4 L448.4 918.3 L453.9 918.2 L459.5 918.1 L465.1 918.0 L470.7 917.9 L476.3 917.8 L482.0 917.7 L487.7 917.6 L493.3 917.5 L499.1 917.4 L504.8 917.3 L510.5 917.3 L516.3 917.2 L522.0 917.1 L527.8 917.0 L533.6 916.9 L539.5 916.9 L545.3 916.8 L551.1 916.7 L557.0 916.7 L562.9 916.6 L568.7 916.5 L574.6 916.5 L580.5 916.4 L586.5 916.4 L592.4 916.3 L598.3 916.3 L604.3 916.2 L610.2 916.2 L616.2 916.1 L622.2 916.1 L628.2 916.0 L634.1 916.0 L640.1 916.0 L646.1 915.9 L652.1 915.9 L658.2 915.9 L664.2 915.9 L670.2 915.8 L676.2 915.8 L682.3 915.8 L688.3 915.8 L694.3 915.8 L700.4 915.8 L706.4 915.8 L712.5 915.8 L718.5 915.8 L724.5 915.8 L730.6 915.8 L736.6 915.8 L742.7 915.8 L748.7 915.8 L754.8 915.8 L760.8 915.8 L766.8 915.8 L772.9 915.8 L778.9 915.9 L784.9 915.9 L790.9 915.9 L796.9 915.9 L802.9 916.0 L809.0 916.0 L814.9 916.0 L820.9 916.1 L826.9 916.1 L832.9 916.2 L838.9 916.2 L844.8 916.3 L850.8 916.3 L856.7 916.4 L862.6 916.4 L868.5 916.5 L874.5 916.5 L880.3 916.6 L886.2 916.6 L892.1 916.7 L898.0 916.8 L903.8 916.9 L909.6 916.9 L915.5 917.0 L921.3 917.1 L927.0 917.2 L932.8 917.2 L938.6 917.3 L944.3 917.4 L950.0 917.5 L955.7 917.6 L961.4 917.7 L967.1 917.8 L972.8 917.9 L978.4 918.0 L984.0 918.1 L989.6 918.2 L995.2 918.3 L1000.7 918.4 L1006.3 918.5 L1011.8 918.6 L1017.3 918.7 L1022.7 918.8 L1028.2 919.0 L1033.6 919.1 L1039.0 919.2 L1044.4 919.3 L1049.7 919.5 L1055.0 919.6 L1060.3 919.7 L1065.6 919.9 L1070.8 920.0 L1076.1 920.1 L1081.3 920.3 L1086.4 920.4 L1091.6 920.6 L1096.7 920.7 L1101.8 920.8 L1106.8 921.0 L1111.8 921.2 L1116.8 921.3 L1121.8 921.5 L1126.7 921.6 L1131.6 921.8 L1136.5 921.9 L1141.4 922.1 L1146.2 922.3 L1151.0 922.4 L1155.7 922.6 L1160.4 922.8 L1165.1 922.9 L1169.7 923.1 L1174.4 923.3 L1178.9 923.5 L1183.5 923.7 L1188.0 923.8 L1192.5 924.0 L1196.9 924.2 L1201.3 924.4 L1205.7 924.6 L1210.0 924.8 L1214.3 925.0 L1218.5 925.2 L1222.8 925.4 L1226.9 925.6 L1231.1 925.8 L1235.2 926.0 L1239.3 926.2 L1243.3 926.4 L1247.3 926.6 L1251.2 926.8 L1255.1 927.0 L1259.0 927.2 L1262.8 927.4 L1266.6 927.6 L1270.3 927.8 L1274.0 928.0 L1277.7 928.3 L1281.3 928.5 L1284.9 928.7 L1288.4 928.9 L1291.9 929.1 L1295.3 929.4 L1298.7 929.6 L1302.1 929.8 L1305.4 930.0 L1308.7 930.3 L1311.9 930.5 L1315.1 930.7 L1318.2 931.0 L1321.3 931.2 L1324.4 931.4 L1327.4 931.7 L1330.3 931.9 L1333.2 932.2 L1336.1 932.4 L1338.9 932.6 L1341.7 932.9 L1344.4 933.1 L1347.1 933.4 L1349.7 933.6 L1352.3 933.9 L1354.8 934.1 L1357.3 934.4 L1359.7 934.6 L1362.1 934.9 L1364.4 935.1 L1366.7 935.4 L1369.0 935.6 L1371.1 935.9 L1373.3 936.1 L1375.4 936.4 L1377.4 936.6 L1379.4 936.9 L1381.4 937.1 L1383.2 937.4 L1385.1 937.7 L1386.9 937.9 L1388.6 938.2 L1390.3 938.4 L1392.0 938.7 L1393.5 939.0 L1395.1 939.2 L1396.6 939.5 L1398.0 939.8 L1399.4 940.0 L1400.7 940.3 L1402.0 940.6 L1403.2 940.8 L1404.4 941.1 L1405.5 941.4 L1406.6 941.6 L1407.6 941.9 L1408.6 942.2 L1409.5 942.4 L1410.4 942.7 L1411.2 943.0 L1412.0 943.2 L1412.7 943.5 L1413.4 943.8 L1414.0 944.1 L1414.5 944.3 L1415.0 944.6 L1415.5 944.9 L1415.9 945.1 L1416.2 945.4 L1416.5 945.7 L1416.7 946.0"/>
<path d="M119.4 837.4 L119.7 837.2 L120.0 836.9 L120.3 836.7 L120.7 836.5 L121.2 836.2 L121.7 836.0 L122.2 835.8 L122.8 835.5 L123.4 835.3 L124.1 835.0 L124.8 834.8 L125.5 834.6 L126.3 834.3 L127.2 834.1 L128.1 833.9 L129.0 833.6 L130.0 833.4 L131.0 833.2 L132.1 832.9 L133.2 832.7 L134.4 832.5 L135.6 832.2 L136.9 832.0 L138.2 831.8 L139.5 831.5 L140.9 831.3 L142.3 831.1 L143.8 830.9 L145.3 830.6 L146.9 830.4 L148.5 830.2 L150.2 830.0 L151.9 829.7 L153.6 829.5 L155.4 829.3 L157.2 829.1 L159.1 828.8 L161.0 828.6 L163.0 828.4 L165.0 828.2 L167.0 828.0 L169.1 827.7 L171.2 827.5 L173.4 827.3 L175.6 827.1 L177.9 826.9 L180.2 826.7 L182.5 826.4 L184.9 826.2 L187.3 826.0 L189.8 825.8 L192.3 825.6 L194.8 825.4 L197.4 825.2 L200.0 825.0 L202.7 824.8 L205.4 824.6 L208.1 824.4 L210.9 824.2 L213.7 824.0 L216.6 823.8 L219.5 823.6 L222.4 823.4 L225.4 823.2 L228.4 823.0 L231.5 822.8 L234.6 822.6 L237.7 822.4 L240.8 822.2 L244.0 822.0 L247.3 821.8 L250.5 821.6 L253.9 821.5 L257.2 821.3 L260.6 821.1 L264.0 820.9 L267.4 820.7 L270.9 820.6 L274.4 820.4 L278.0 820.2 L281.6 820.0 L285.2 819.9 L288.9 819.7 L292.6 819.5 L296.3 819.3 L300.0 819.2 L303.8 819.0 L307.6 818.9 L311.5 818.7 L315.4 818.5 L319.3 818.4 L323.2 818.2 L327.2 818.1 L331.2 817.9 L335.2 817.7 L339.3 817.6 L343.4 817.4 L347.5 817.3 L351.7 817.2 L355.8 817.0 L360.1 816.9 L364.3 816.7 L368.5 816.6 L372.8 816.4 L377.2 816.3 L381.5 816.2 L385.9 816.0 L390.3 815.9 L394.7 815.8 L399.1 815.6 L403.6 815.5 L408.1 815.4 L412.6 815.3 L417.2 815.2 L421.7 815.0 L426.3 814.9 L430.9 814.8 L435.6 814.7 L440.2 814.6 L444.9 814.5 L449.6 814.4 L454.3 814.3 L459.0 814.1 L463.8 814.0 L468.6 813.9 L473.4 813.8 L478.2 813.7 L483.0 813.7 L487.9 813.6 L492.8 813.5 L497.7 813.4 L502.6 813.3 L507.5 813.2 L512.4 813.1 L517.4 813.0 L522.4 813.0 L527.4 812.9 L532.4 812.8 L537.4 812.7 L542.4 812.7 L547.5 812.6 L552.5 812.5 L557.6 812.5 L562.7 812.4 L567.8 812.3 L572.9 812.3 L578.0 812.2 L583.2 812.2 L588.3 812.1 L593.5 812.1 L598.6 812.0 L603.8 812.0 L609.0 811.9 L614.2 811.9 L619.4 811.8 L624.6 811.8 L629.8 811.8 L635.0 811.7 L640.3 811.7 L645.5 811.7 L650.7 811.6 L656.0 811.6 L661.2 811.6 L666.5 811.5 L671.8 811.5 L677.0 811.5 L682.3 811.5 L687.6 811.5 L692.9 811.5 L698.1 811.5 L703.4 811.4 L708.7 811.4 L714.0 811.4 L719.3 811.4 L724.6 811.4 L729.8 811.4 L735.1 811.4 L740.4 811.4 L745.7 811.5 L751.0 811.5 L756.3 811.5 L761.5 811.5 L766.8 811.5 L772.1 811.5 L777.3 811.5 L782.6 811.6 L787.9 811.6 L793.1 811.6 L798.4 811.6 L803.6 811.7 L808.9 811.7 L814.1 811.7 L819.3 811.8 L824.5 811.8 L829.7 811.9 L834.9 811.9 L840.1 811.9 L845.3 812.0 L850.5 812.0 L855.7 812.1 L860.8 812.2 L866.0 812.2 L871.1 812.3 L876.2 812.3 L881.3 812.4 L886.4 812.4 L891.5 812.5 L896.6 812.6 L901.6 812.6 L906.7 812.7 L911.7 812.8 L916.7 812.9 L921.8 812.9 L926.7 813.0 L931.7 813.1 L936.7 813.2 L941.6 813.3 L946.5 813.4 L951.5 813.5 L956.3 813.5 L961.2 813.6 L966.1 813.7 L970.9 813.8 L975.7 813.9 L980.5 814.0 L985.3 814.1 L990.1 814.2 L994.8 814.3 L999.5 814.4 L1004.2 814.6 L1008.9 814.7 L1013.6 814.8 L1018.2 814.9 L1022.8 815.0 L1027.4 815.1 L1032.0 815.3 L1036.5 815.4 L1041.0 815.5 L1045.5 815.6 L1050.0 815.8 L1054.4 815.9 L1058.9 816.0 L1063.3 816.1 L1067.6 816.3 L1072.0 816.4 L1076.3 816.6 L1080.6 816.7 L1084.8 816.8 L1089.1 817.0 L1093.3 817.1 L1097.5 817.3 L1101.6 817.4 L1105.7 817.6 L1109.8 817.7 L1113.9 817.9 L1117.9 818.0 L1121.9 818.2 L1125.9 818.3 L1129.8 818.5 L1133.8 818.7 L1137.6 818.8 L1141.5 819.0 L1145.3 819.1 L1149.1 819.3 L1152.8 819.5 L1156.6 819.7 L1160.3 819.8 L1163.9 820.0 L1167.5 820.2 L1171.1 820.3 L1174.7 820.5 L1178.2 820.7 L1181.7 820.9 L1185.1 821.1 L1188.5 821.2 L1191.9 821.4 L1195.3 821.6 L1198.6 821.8 L1201.8 822.0 L1205.1 822.2 L1208.3 822.4 L1211.4 822.6 L1214.6 822.7 L1217.7 822.9 L1220.7 823.1 L1223.7 823.3 L1226.7 823.5 L1229.6 823.7 L1232.5 823.9 L1235.4 824.1 L1238.2 824.3 L1241.0 824.5 L1243.7 824.7 L1246.4 824.9 L1249.1 825.1 L1251.7 825.4 L1254.3 825.6 L1256.8 825.8 L1259.3 826.0 L1261.8 826.2 L1264.2 826.4 L1266.6 826.6 L1268.9 826.8 L1271.2 827.0 L1273.5 827.3 L1275.7 827.5 L1277.9 827.7 L1280.0 827.9 L1282.1 828.1 L1284.1 828.3 L1286.1 828.6 L1288.1 828.8 L1290.0 829.0 L1291.9 829.2 L1293.7 829.5 L1295.5 829.7 L1297.2 829.9 L1298.9 830.1 L1300.6 830.4 L1302.2 830.6 L1303.8 830.8 L1305.3 831.0 L1306.8 831.3 L1308.2 831.5 L1309.6 831.7 L1310.9 832.0 L1312.3 832.2 L1313.5 832.4 L1314.7 832.7 L1315.9 832.9 L1317.0 833.1 L1318.1 833.4 L1319.1 833.6 L1320.1 833.8 L1321.0 834.1 L1321.9 834.3 L1322.8 834.5 L1323.6 834.8 L1324.3 835.0 L1325.1 835.2 L1325.7 835.5 L1326.3 835.7 L1326.9 835.9 L1327.5 836.2 L1327.9 836.4 L1328.4 836.7 L1328.8 836.9 L1329.1 837.1 L1329.4 837.4 L1329.7 837.6"/>
<path d="M223.6 746.8 L223.9 746.6 L224.3 746.4 L224.7 746.2 L225.1 746.0 L225.6 745.8 L226.1 745.7 L226.6 745.5 L227.2 745.3 L227.9 745.1 L228.5 744.9 L229.2 744.7 L230.0 744.5 L230.8 744.3 L231.6 744.1 L232.4 743.9 L233.3 743.7 L234.3 743.5 L235.2 743.3 L236.2 743.1 L237.3 742.9 L238.3 742.8 L239.5 742.6 L240.6 742.4 L241.8 742.2 L243.0 742.0 L244.3 741.8 L245.6 741.6 L246.9 741.4 L248.3 741.2 L249.7 741.1 L251.2 740.9 L252.6 740.7 L254.2 740.5 L255.7 740.3 L257.3 740.1 L258.9 739.9 L260.6 739.8 L262.3 739.6 L264.0 739.4 L265.8 739.2 L267.6 739.0 L269.4 738.9 L271.3 738.7 L273.2 738.5 L275.1 738.3 L277.1 738.2 L279.1 738.0 L281.1 737.8 L283.2 737.6 L285.3 737.5 L287.5 737.3 L289.6 737.1 L291.8 736.9 L294.1 736.8 L296.4 736.6 L298.7 736.4 L301.0 736.3 L303.4 736.1 L305.8 735.9 L308.2 735.8 L310.7 735.6 L313.2 735.5 L315.7 735.3 L318.3 735.1 L320.9 735.0 L323.5 734.8 L326.1 734.7 L328.8 734.5 L331.5 734.4 L334.3 734.2 L337.0 734.0 L339.8 733.9 L342.7 733.7 L345.5 733.6 L348.4 733.4 L351.3 733.3 L354.3 733.2 L357.3 733.0 L360.3 732.9 L363.3 732.7 L366.4 732.6 L369.4 732.4 L372.6 732.3 L375.7 732.2 L378.9 732.0 L382.1 731.9 L385.3 731.8 L388.5 731.6 L391.8 731.5 L395.1 731.4 L398.4 731.2 L401.7 731.1 L405.1 731.0 L408.5 730.9 L411.9 730.7 L415.4 730.6 L418.8 730.5 L422.3 730.4 L425.8 730.3 L429.4 730.2 L432.9 730.0 L436.5 729.9 L440.1 729.8 L443.7 729.7 L447.4 729.6 L451.0 729.5 L454.7 729.4 L458.4 729.3 L462.2 729.2 L465.9 729.1 L469.7 729.0 L473.5 728.9 L477.3 728.8 L481.1 728.7 L484.9 728.6 L488.8 728.5 L492.7 728.4 L496.6 728.3 L500.5 728.2 L504.4 728.1 L508.4 728.0 L512.3 728.0 L516.3 727.9 L520.3 727.8 L524.3 727.7 L528.3 727.6 L532.4 727.6 L536.4 727.5 L540.5 727.4 L544.6 727.4 L548.7 727.3 L552.8 727.2 L556.9 727.2 L561.1 727.1 L565.2 727.0 L569.4 727.0 L573.6 726.9 L577.7 726.8 L581.9 726.8 L586.1 726.7 L590.4 726.7 L594.6 726.6 L598.8 726.6 L603.1 726.5 L607.3 726.5 L611.6 726.4 L615.9 726.4 L620.2 726.4 L624.4 726.3 L628.7 726.3 L633.1 726.2 L637.4 726.2 L641.7 726.2 L646.0 726.1 L650.3 726.1 L654.7 726.1 L659.0 726.1 L663.4 726.0 L667.7 726.0 L672.1 726.0 L676.4 726.0 L680.8 726.0 L685.2 725.9 L689.5 725.9 L693.9 725.9 L698.3 725.9 L702.7 725.9 L707.0 725.9 L711.4 725.9 L715.8 725.9 L720.2 725.9 L724.6 725.9 L729.0 725.9 L733.3 725.9 L737.7 725.9 L742.1 725.9 L746.5 725.9 L750.9 725.9 L755.2 725.9 L759.6 725.9 L764.0 726.0 L768.3 726.0 L772.7 726.0 L777.1 726.0 L781.4 726.0 L785.8 726.1 L790.1 726.1 L794.5 726.1 L798.8 726.1 L803.1 726.2 L807.5 726.2 L811.8 726.2 L816.1 726.3 L820.4 726.3 L824.7 726.3 L829.0 726.4 L833.3 726.4 L837.6 726.5 L841.8 726.5 L846.1 726.6 L850.3 726.6 L854.6 726.7 L858.8 726.7 L863.0 726.8 L867.2 726.8 L871.4 726.9 L875.6 726.9 L879.8 727.0 L883.9 727.1 L888.1 727.1 L892.2 727.2 L896.3 727.3 L900.5 727.3 L904.6 727.4 L908.6 727.5 L912.7 727.6 L916.8 727.6 L920.8 727.7 L924.8 727.8 L928.8 727.9 L932.8 727.9 L936.8 728.0 L940.8 728.1 L944.7 728.2 L948.7 728.3 L952.6 728.4 L956.5 728.5 L960.4 728.6 L964.2 728.7 L968.1 728.8 L971.9 728.8 L975.7 728.9 L979.5 729.0 L983.2 729.1 L987.0 729.3 L990.7 729.4 L994.4 729.5 L998.1 729.6 L1001.8 729.7 L1005.4 729.8 L1009.0 729.9 L1012.6 730.0 L1016.2 730.1 L1019.8 730.2 L1023.3 730.4 L1026.8 730.5 L1030.3 730.6 L1033.8 730.7 L1037.2 730.8 L1040.6 731.0 L1044.0 731.1 L1047.4 731.2 L1050.7 731.3 L1054.1 731.5 L1057.4 731.6 L1060.6 731.7 L1063.9 731.9 L1067.1 732.0 L1070.3 732.1 L1073.4 732.3 L1076.6 732.4 L1079.7 732.6 L1082.8 732.7 L1085.8 732.8 L1088.9 733.0 L1091.9 733.1 L1094.9 733.3 L1097.8 733.4 L1100.7 733.6 L1103.6 733.7 L1106.5 733.9 L1109.3 734.0 L1112.1 734.2 L1114.9 734.3 L1117.6 734.5 L1120.3 734.6 L1123.0 734.8 L1125.7 734.9 L1128.3 735.1 L1130.9 735.3 L1133.4 735.4 L1136.0 735.6 L1138.5 735.7 L1140.9 735.9 L1143.4 736.1 L1145.8 736.2 L1148.1 736.4 L1150.5 736.6 L1152.8 736.7 L1155.1 736.9 L1157.3 737.1 L1159.5 737.3 L1161.7 737.4 L1163.8 737.6 L1165.9 737.8 L1168.0 737.9 L1170.1 738.1 L1172.1 738.3 L1174.0 738.5 L1176.0 738.6 L1177.9 738.8 L1179.7 739.0 L1181.6 739.2 L1183.4 739.4 L1185.1 739.5 L1186.9 739.7 L1188.6 739.9 L1190.2 740.1 L1191.9 740.3 L1193.4 740.5 L1195.0 740.6 L1196.5 740.8 L1198.0 741.0 L1199.4 741.2 L1200.8 741.4 L1202.2 741.6 L1203.6 741.8 L1204.9 742.0 L1206.1 742.1 L1207.3 742.3 L1208.5 742.5 L1209.7 742.7 L1210.8 742.9 L1211.9 743.1 L1212.9 743.3 L1213.9 743.5 L1214.9 743.7 L1215.8 743.9 L1216.7 744.1 L1217.6 744.3 L1218.4 744.4 L1219.2 744.6 L1219.9 744.8 L1220.6 745.0 L1221.3 745.2 L1221.9 745.4 L1222.5 745.6 L1223.1 745.8 L1223.6 746.0 L1224.0 746.2 L1224.5 746.4 L1224.9 746.6 L1225.2 746.8 L1225.6 747.0"/>
<path d="M339.9 676.1 L340.3 675.9 L340.6 675.8 L341.0 675.6 L341.5 675.5 L341.9 675.3 L342.4 675.2 L342.9 675.0 L343.5 674.9 L344.0 674.7 L344.6 674.6 L345.3 674.4 L345.9 674.3 L346.6 674.1 L347.3 674.0 L348.1 673.8 L348.8 673.7 L349.6 673.5 L350.5 673.4 L351.3 673.2 L352.2 673.1 L353.1 672.9 L354.1 672.8 L355.0 672.6 L356.0 672.5 L357.1 672.4 L358.1 672.2 L359.2 672.1 L360.3 671.9 L361.5 671.8 L362.6 671.6 L363.8 671.5 L365.1 671.4 L366.3 671.2 L367.6 671.1 L368.9 670.9 L370.2 670.8 L371.6 670.7 L373.0 670.5 L374.4 670.4 L375.8 670.2 L377.3 670.1 L378.8 670.0 L380.3 669.8 L381.8 669.7 L383.4 669.6 L385.0 669.4 L386.6 669.3 L388.3 669.2 L389.9 669.0 L391.6 668.9 L393.4 668.8 L395.1 668.6 L396.9 668.5 L398.7 668.4 L400.5 668.3 L402.4 668.1 L404.2 668.0 L406.1 667.9 L408.0 667.8 L410.0 667.6 L412.0 667.5 L414.0 667.4 L416.0 667.3 L418.0 667.2 L420.1 667.0 L422.2 666.9 L424.3 666.8 L426.4 666.7 L428.6 666.6 L430.7 666.4 L432.9 666.3 L435.2 666.2 L437.4 666.1 L439.7 666.0 L442.0 665.9 L444.3 665.8 L446.6 665.7 L449.0 665.6 L451.3 665.4 L453.7 665.3 L456.2 665.2 L458.6 665.1 L461.0 665.0 L463.5 664.9 L466.0 664.8 L468.5 664.7 L471.1 664.6 L473.6 664.5 L476.2 664.4 L478.8 664.3 L481.4 664.2 L484.0 664.1 L486.7 664.0 L489.3 664.0 L492.0 663.9 L494.7 663.8 L497.5 663.7 L500.2 663.6 L502.9 663.5 L505.7 663.4 L508.5 663.3 L511.3 663.2 L514.1 663.2 L517.0 663.1 L519.8 663.0 L522.7 662.9 L525.6 662.8 L528.5 662.8 L531.4 662.7 L534.3 662.6 L537.2 662.5 L540.2 662.5 L543.2 662.4 L546.2 662.3 L549.2 662.3 L552.2 662.2 L555.2 662.1 L558.2 662.1 L561.3 662.0 L564.3 661.9 L567.4 661.9 L570.5 661.8 L573.6 661.8 L576.7 661.7 L579.8 661.6 L583.0 661.6 L586.1 661.5 L589.3 661.5 L592.4 661.4 L595.6 661.4 L598.8 661.3 L602.0 661.3 L605.2 661.2 L608.4 661.2 L611.6 661.1 L614.8 661.1 L618.1 661.0 L621.3 661.0 L624.6 661.0 L627.8 660.9 L631.1 660.9 L634.4 660.9 L637.7 660.8 L640.9 660.8 L644.2 660.8 L647.5 660.7 L650.9 660.7 L654.2 660.7 L657.5 660.6 L660.8 660.6 L664.1 660.6 L667.5 660.6 L670.8 660.6 L674.1 660.5 L677.5 660.5 L680.8 660.5 L684.2 660.5 L687.5 660.5 L690.9 660.5 L694.3 660.4 L697.6 660.4 L701.0 660.4 L704.4 660.4 L707.7 660.4 L711.1 660.4 L714.5 660.4 L717.8 660.4 L721.2 660.4 L724.6 660.4 L728.0 660.4 L731.3 660.4 L734.7 660.4 L738.1 660.4 L741.4 660.4 L744.8 660.4 L748.2 660.4 L751.5 660.4 L754.9 660.5 L758.3 660.5 L761.6 660.5 L765.0 660.5 L768.3 660.5 L771.7 660.5 L775.0 660.5 L778.4 660.6 L781.7 660.6 L785.0 660.6 L788.4 660.6 L791.7 660.7 L795.0 660.7 L798.3 660.7 L801.6 660.8 L804.9 660.8 L808.2 660.8 L811.5 660.9 L814.8 660.9 L818.1 660.9 L821.3 661.0 L824.6 661.0 L827.9 661.0 L831.1 661.1 L834.3 661.1 L837.6 661.2 L840.8 661.2 L844.0 661.3 L847.2 661.3 L850.4 661.4 L853.6 661.4 L856.7 661.5 L859.9 661.5 L863.1 661.6 L866.2 661.6 L869.3 661.7 L872.5 661.7 L875.6 661.8 L878.7 661.9 L881.8 661.9 L884.8 662.0 L887.9 662.0 L890.9 662.1 L894.0 662.2 L897.0 662.2 L900.0 662.3 L903.0 662.4 L906.0 662.5 L909.0 662.5 L911.9 662.6 L914.9 662.7 L917.8 662.8 L920.7 662.8 L923.6 662.9 L926.5 663.0 L929.4 663.1 L932.2 663.1 L935.0 663.2 L937.9 663.3 L940.7 663.4 L943.5 663.5 L946.2 663.6 L949.0 663.7 L951.7 663.8 L954.4 663.8 L957.1 663.9 L959.8 664.0 L962.5 664.1 L965.1 664.2 L967.8 664.3 L970.4 664.4 L973.0 664.5 L975.5 664.6 L978.1 664.7 L980.6 664.8 L983.1 664.9 L985.6 665.0 L988.1 665.1 L990.6 665.2 L993.0 665.3 L995.4 665.4 L997.8 665.5 L1000.2 665.6 L1002.6 665.7 L1004.9 665.9 L1007.2 666.0 L1009.5 666.1 L1011.8 666.2 L1014.0 666.3 L1016.2 666.4 L1018.4 666.5 L1020.6 666.7 L1022.8 666.8 L1024.9 666.9 L1027.0 667.0 L1029.1 667.1 L1031.2 667.2 L1033.2 667.4 L1035.2 667.5 L1037.2 667.6 L1039.2 667.7 L1041.1 667.9 L1043.0 668.0 L1044.9 668.1 L1046.8 668.2 L1048.7 668.4 L1050.5 668.5 L1052.3 668.6 L1054.1 668.8 L1055.8 668.9 L1057.5 669.0 L1059.2 669.1 L1060.9 669.3 L1062.6 669.4 L1064.2 669.5 L1065.8 669.7 L1067.3 669.8 L1068.9 669.9 L1070.4 670.1 L1071.9 670.2 L1073.4 670.4 L1074.8 670.5 L1076.2 670.6 L1077.6 670.8 L1079.0 670.9 L1080.3 671.0 L1081.6 671.2 L1082.9 671.3 L1084.1 671.5 L1085.3 671.6 L1086.5 671.8 L1087.7 671.9 L1088.8 672.0 L1090.0 672.2 L1091.0 672.3 L1092.1 672.5 L1093.1 672.6 L1094.1 672.8 L1095.1 672.9 L1096.0 673.1 L1096.9 673.2 L1097.8 673.3 L1098.7 673.5 L1099.5 673.6 L1100.3 673.8 L1101.1 673.9 L1101.8 674.1 L1102.6 674.2 L1103.2 674.4 L1103.9 674.5 L1104.5 674.7 L1105.1 674.8 L1105.7 675.0 L1106.2 675.1 L1106.8 675.3 L1107.2 675.4 L1107.7 675.6 L1108.1 675.7 L1108.5 675.9 L1108.9 676.0 L1109.2 676.2"/>
<path d="M465.4 625.4 L465.8 625.3 L466.2 625.2 L466.5 625.1 L466.9 625.0 L467.4 624.9 L467.8 624.8 L468.3 624.7 L468.8 624.6 L469.3 624.5 L469.8 624.4 L470.3 624.3 L470.9 624.2 L471.5 624.1 L472.1 624.0 L472.7 623.9 L473.4 623.8 L474.0 623.7 L474.7 623.6 L475.4 623.5 L476.1 623.4 L476.8 623.3 L477.6 623.2 L478.4 623.1 L479.2 623.0 L480.0 622.9 L480.8 622.9 L481.6 622.8 L482.5 622.7 L483.4 622.6 L484.3 622.5 L485.2 622.4 L486.2 622.3 L487.1 622.2 L488.1 622.1 L489.1 622.0 L490.1 621.9 L491.1 621.8 L492.2 621.7 L493.2 621.6 L494.3 621.6 L495.4 621.5 L496.5 621.4 L497.7 621.3 L498.8 621.2 L500.0 621.1 L501.2 621.0 L502.4 620.9 L503.6 620.8 L504.8 620.8 L506.1 620.7 L507.4 620.6 L508.6 620.5 L509.9 620.4 L511.3 620.3 L512.6 620.2 L514.0 620.2 L515.3 620.1 L516.7 620.0 L518.1 619.9 L519.5 619.8 L521.0 619.8 L522.4 619.7 L523.9 619.6 L525.3 619.5 L526.8 619.4 L528.3 619.4 L529.9 619.3 L531.4 619.2 L533.0 619.1 L534.5 619.1 L536.1 619.0 L537.7 618.9 L539.3 618.8 L540.9 618.8 L542.6 618.7 L544.2 618.6 L545.9 618.6 L547.6 618.5 L549.3 618.4 L551.0 618.4 L552.7 618.3 L554.4 618.2 L556.2 618.2 L557.9 618.1 L559.7 618.0 L561.5 618.0 L563.3 617.9 L565.1 617.8 L566.9 617.8 L568.7 617.7 L570.6 617.6 L572.4 617.6 L574.3 617.5 L576.2 617.5 L578.1 617.4 L580.0 617.4 L581.9 617.3 L583.8 617.2 L585.7 617.2 L587.7 617.1 L589.6 617.1 L591.6 617.0 L593.6 617.0 L595.6 616.9 L597.6 616.9 L599.6 616.8 L601.6 616.8 L603.6 616.7 L605.6 616.7 L607.7 616.6 L609.7 616.6 L611.8 616.6 L613.9 616.5 L615.9 616.5 L618.0 616.4 L620.1 616.4 L622.2 616.3 L624.3 616.3 L626.4 616.3 L628.6 616.2 L630.7 616.2 L632.8 616.2 L635.0 616.1 L637.1 616.1 L639.3 616.0 L641.4 616.0 L643.6 616.0 L645.8 616.0 L648.0 615.9 L650.2 615.9 L652.4 615.9 L654.6 615.8 L656.8 615.8 L659.0 615.8 L661.2 615.8 L663.4 615.7 L665.6 615.7 L667.9 615.7 L670.1 615.7 L672.4 615.6 L674.6 615.6 L676.8 615.6 L679.1 615.6 L681.3 615.6 L683.6 615.6 L685.9 615.5 L688.1 615.5 L690.4 615.5 L692.7 615.5 L694.9 615.5 L697.2 615.5 L699.5 615.5 L701.8 615.5 L704.0 615.5 L706.3 615.4 L708.6 615.4 L710.9 615.4 L713.2 615.4 L715.4 615.4 L717.7 615.4 L720.0 615.4 L722.3 615.4 L724.6 615.4 L726.9 615.4 L729.2 615.4 L731.5 615.4 L733.7 615.4 L736.0 615.4 L738.3 615.4 L740.6 615.4 L742.9 615.5 L745.2 615.5 L747.4 615.5 L749.7 615.5 L752.0 615.5 L754.3 615.5 L756.5 615.5 L758.8 615.5 L761.1 615.5 L763.3 615.6 L765.6 615.6 L767.8 615.6 L770.1 615.6 L772.3 615.6 L774.6 615.6 L776.8 615.7 L779.1 615.7 L781.3 615.7 L783.5 615.7 L785.8 615.8 L788.0 615.8 L790.2 615.8 L792.4 615.8 L794.6 615.9 L796.8 615.9 L799.0 615.9 L801.2 615.9 L803.4 616.0 L805.6 616.0 L807.7 616.0 L809.9 616.1 L812.1 616.1 L814.2 616.1 L816.4 616.2 L818.5 616.2 L820.6 616.3 L822.7 616.3 L824.9 616.3 L827.0 616.4 L829.1 616.4 L831.2 616.5 L833.3 616.5 L835.3 616.5 L837.4 616.6 L839.5 616.6 L841.5 616.7 L843.6 616.7 L845.6 616.8 L847.6 616.8 L849.6 616.9 L851.6 616.9 L853.6 617.0 L855.6 617.0 L857.6 617.1 L859.5 617.1 L861.5 617.2 L863.4 617.2 L865.4 617.3 L867.3 617.3 L869.2 617.4 L871.1 617.5 L873.0 617.5 L874.9 617.6 L876.8 617.6 L878.6 617.7 L880.5 617.8 L882.3 617.8 L884.1 617.9 L885.9 617.9 L887.7 618.0 L889.5 618.1 L891.3 618.1 L893.0 618.2 L894.8 618.3 L896.5 618.3 L898.2 618.4 L899.9 618.5 L901.6 618.5 L903.3 618.6 L905.0 618.7 L906.6 618.8 L908.3 618.8 L909.9 618.9 L911.5 619.0 L913.1 619.1 L914.7 619.1 L916.2 619.2 L917.8 619.3 L919.3 619.4 L920.8 619.4 L922.3 619.5 L923.8 619.6 L925.3 619.7 L926.8 619.7 L928.2 619.8 L929.7 619.9 L931.1 620.0 L932.5 620.1 L933.9 620.1 L935.2 620.2 L936.6 620.3 L937.9 620.4 L939.2 620.5 L940.5 620.6 L941.8 620.7 L943.1 620.7 L944.3 620.8 L945.6 620.9 L946.8 621.0 L948.0 621.1 L949.2 621.2 L950.4 621.3 L951.5 621.4 L952.7 621.4 L953.8 621.5 L954.9 621.6 L956.0 621.7 L957.0 621.8 L958.1 621.9 L959.1 622.0 L960.1 622.1 L961.1 622.2 L962.1 622.3 L963.0 622.4 L964.0 622.5 L964.9 622.5 L965.8 622.6 L966.7 622.7 L967.5 622.8 L968.4 622.9 L969.2 623.0 L970.0 623.1 L970.8 623.2 L971.6 623.3 L972.3 623.4 L973.1 623.5 L973.8 623.6 L974.5 623.7 L975.2 623.8 L975.8 623.9 L976.5 624.0 L977.1 624.1 L977.7 624.2 L978.3 624.3 L978.8 624.4 L979.4 624.5 L979.9 624.6 L980.4 624.7 L980.9 624.8 L981.4 624.9 L981.8 625.0 L982.2 625.1 L982.6 625.2 L983.0 625.3 L983.4 625.4 L983.7 625.5"/>
<path d="M598.4 595.1 L598.8 595.0 L599.1 595.0 L599.5 594.9 L599.9 594.9 L600.3 594.8 L600.7 594.8 L601.1 594.8 L601.5 594.7 L601.9 594.7 L602.4 594.6 L602.8 594.6 L603.3 594.5 L603.7 594.5 L604.2 594.4 L604.7 594.4 L605.2 594.3 L605.7 594.3 L606.2 594.2 L606.7 594.2 L607.3 594.1 L607.8 594.1 L608.3 594.0 L608.9 594.0 L609.5 594.0 L610.0 593.9 L610.6 593.9 L611.2 593.8 L611.8 593.8 L612.4 593.7 L613.0 593.7 L613.6 593.6 L614.3 593.6 L614.9 593.6 L615.6 593.5 L616.2 593.5 L616.9 593.4 L617.6 593.4 L618.3 593.3 L618.9 593.3 L619.6 593.3 L620.3 593.2 L621.1 593.2 L621.8 593.1 L622.5 593.1 L623.3 593.1 L624.0 593.0 L624.8 593.0 L625.5 592.9 L626.3 592.9 L627.1 592.9 L627.8 592.8 L628.6 592.8 L629.4 592.8 L630.2 592.7 L631.1 592.7 L631.9 592.6 L632.7 592.6 L633.5 592.6 L634.4 592.5 L635.2 592.5 L636.1 592.5 L636.9 592.4 L637.8 592.4 L638.7 592.4 L639.6 592.3 L640.4 592.3 L641.3 592.3 L642.2 592.2 L643.1 592.2 L644.1 592.2 L645.0 592.1 L645.9 592.1 L646.8 592.1 L647.8 592.0 L648.7 592.0 L649.7 592.0 L650.6 592.0 L651.6 591.9 L652.5 591.9 L653.5 591.9 L654.5 591.8 L655.5 591.8 L656.5 591.8 L657.5 591.8 L658.4 591.7 L659.5 591.7 L660.5 591.7 L661.5 591.7 L662.5 591.6 L663.5 591.6 L664.5 591.6 L665.6 591.6 L666.6 591.5 L667.6 591.5 L668.7 591.5 L669.7 591.5 L670.8 591.5 L671.8 591.4 L672.9 591.4 L674.0 591.4 L675.0 591.4 L676.1 591.4 L677.2 591.3 L678.3 591.3 L679.3 591.3 L680.4 591.3 L681.5 591.3 L682.6 591.3 L683.7 591.2 L684.8 591.2 L685.9 591.2 L687.0 591.2 L688.1 591.2 L689.2 591.2 L690.4 591.1 L691.5 591.1 L692.6 591.1 L693.7 591.1 L694.8 591.1 L696.0 591.1 L697.1 591.1 L698.2 591.1 L699.4 591.1 L700.5 591.0 L701.6 591.0 L702.8 591.0 L703.9 591.0 L705.0 591.0 L706.2 591.0 L707.3 591.0 L708.5 591.0 L709.6 591.0 L710.8 591.0 L711.9 591.0 L713.1 591.0 L714.2 591.0 L715.4 591.0 L716.5 591.0 L717.7 591.0 L718.8 591.0 L720.0 591.0 L721.1 591.0 L722.3 591.0 L723.4 591.0 L724.6 591.0 L725.7 591.0 L726.9 591.0 L728.1 591.0 L729.2 591.0 L730.4 591.0 L731.5 591.0 L732.7 591.0 L733.8 591.0 L735.0 591.0 L736.1 591.0 L737.3 591.0 L738.4 591.0 L739.6 591.0 L740.7 591.0 L741.9 591.0 L743.0 591.0 L744.1 591.0 L745.3 591.0 L746.4 591.0 L747.6 591.0 L748.7 591.1 L749.8 591.1 L751.0 591.1 L752.1 591.1 L753.2 591.1 L754.4 591.1 L755.5 591.1 L756.6 591.1 L757.7 591.1 L758.8 591.2 L759.9 591.2 L761.1 591.2 L762.2 591.2 L763.3 591.2 L764.4 591.2 L765.5 591.2 L766.6 591.3 L767.7 591.3 L768.8 591.3 L769.8 591.3 L770.9 591.3 L772.0 591.4 L773.1 591.4 L774.2 591.4 L775.2 591.4 L776.3 591.4 L777.3 591.5 L778.4 591.5 L779.5 591.5 L780.5 591.5 L781.5 591.5 L782.6 591.6 L783.6 591.6 L784.7 591.6 L785.7 591.6 L786.7 591.7 L787.7 591.7 L788.7 591.7 L789.7 591.7 L790.7 591.8 L791.7 591.8 L792.7 591.8 L793.7 591.8 L794.7 591.9 L795.7 591.9 L796.6 591.9 L797.6 592.0 L798.6 592.0 L799.5 592.0 L800.5 592.0 L801.4 592.1 L802.4 592.1 L803.3 592.1 L804.2 592.2 L805.1 592.2 L806.0 592.2 L806.9 592.3 L807.8 592.3 L808.7 592.3 L809.6 592.4 L810.5 592.4 L811.4 592.4 L812.3 592.5 L813.1 592.5 L814.0 592.5 L814.8 592.6 L815.7 592.6 L816.5 592.6 L817.3 592.7 L818.1 592.7 L819.0 592.7 L819.8 592.8 L820.6 592.8 L821.3 592.9 L822.1 592.9 L822.9 592.9 L823.7 593.0 L824.4 593.0 L825.2 593.1 L825.9 593.1 L826.7 593.1 L827.4 593.2 L828.1 593.2 L828.8 593.3 L829.5 593.3 L830.2 593.3 L830.9 593.4 L831.6 593.4 L832.3 593.5 L833.0 593.5 L833.6 593.5 L834.3 593.6 L834.9 593.6 L835.5 593.7 L836.2 593.7 L836.8 593.8 L837.4 593.8 L838.0 593.9 L838.6 593.9 L839.2 593.9 L839.7 594.0 L840.3 594.0 L840.9 594.1 L841.4 594.1 L841.9 594.2 L842.5 594.2 L843.0 594.3 L843.5 594.3 L844.0 594.4 L844.5 594.4 L845.0 594.5 L845.4 594.5 L845.9 594.6 L846.4 594.6 L846.8 594.6 L847.3 594.7 L847.7 594.7 L848.1 594.8 L848.5 594.8 L848.9 594.9 L849.3 594.9 L849.7 595.0 L850.1 595.0 L850.4 595.1 L850.8 595.1"/>
<path d="M-29.1 1403.7 L-29.7 1396.6 L-30.3 1389.5 L-30.8 1382.4 L-31.2 1375.4 L-31.6 1368.3 L-31.9 1361.2 L-32.1 1354.1 L-32.3 1347.0 L-32.4 1339.9 L-32.4 1332.8 L-32.4 1325.7 L-32.3 1318.6 L-32.1 1311.5 L-31.9 1304.4 L-31.6 1297.3 L-31.2 1290.2 L-30.8 1283.1 L-30.3 1276.1 L-29.7 1269.0 L-29.1 1262.0 L-28.4 1254.9 L-27.6 1247.9 L-26.8 1240.9 L-25.9 1233.9 L-25.0 1226.9 L-23.9 1219.9 L-22.9 1212.9 L-21.7 1205.9 L-20.5 1199.0 L-19.2 1192.1 L-17.9 1185.1 L-16.5 1178.2 L-15.0 1171.4 L-13.5 1164.5 L-11.9 1157.7 L-10.2 1150.8 L-8.5 1144.0 L-6.7 1137.3 L-4.9 1130.5 L-3.0 1123.8 L-1.0 1117.1 L1.0 1110.4 L3.1 1103.7 L5.2 1097.1 L7.4 1090.5 L9.7 1083.9 L12.0 1077.3 L14.4 1070.8 L16.8 1064.3 L19.3 1057.8 L21.9 1051.4 L24.5 1045.0 L27.2 1038.6 L29.9 1032.2 L32.7 1025.9 L35.5 1019.6 L38.4 1013.4 L41.3 1007.2 L44.3 1001.0 L47.4 994.8 L50.5 988.7 L53.7 982.6 L56.9 976.6 L60.1 970.6 L63.5 964.6 L66.8 958.7 L70.2 952.8 L73.7 946.9 L77.2 941.1 L80.8 935.3 L84.4 929.6 L88.1 923.9 L91.8 918.2 L95.5 912.6 L99.3 907.0 L103.2 901.5 L107.1 896.0 L111.0 890.6 L115.0 885.1 L119.0 879.8 L123.1 874.5 L127.2 869.2 L131.4 863.9 L135.6 858.8 L139.8 853.6 L144.1 848.5 L148.4 843.4 L152.8 838.4 L157.2 833.5 L161.6 828.5 L166.1 823.7 L170.6 818.8 L175.1 814.1 L179.7 809.3 L184.4 804.6 L189.0 800.0 L193.7 795.4 L198.4 790.9 L203.2 786.4 L208.0 781.9 L212.8 777.5 L217.7 773.2 L222.6 768.8 L227.5 764.6 L232.5 760.4 L237.5 756.2 L242.5 752.1 L247.6 748.0 L252.7 744.0 L257.8 740.1 L262.9 736.2 L268.1 732.3 L273.3 728.5 L278.5 724.7 L283.8 721.0 L289.0 717.3 L294.3 713.7 L299.7 710.2 L305.0 706.6 L310.4 703.2 L315.8 699.8 L321.2 696.4 L326.7 693.1 L332.1 689.8 L337.6 686.6 L343.1 683.5 L348.7 680.3 L354.2 677.3 L359.8 674.3 L365.4 671.3 L371.0 668.4 L376.7 665.5 L382.3 662.7 L388.0 660.0 L393.7 657.3 L399.4 654.6 L405.1 652.0 L410.9 649.5 L416.7 647.0 L422.4 644.5 L428.2 642.1 L434.0 639.8 L439.9 637.5 L445.7 635.2 L451.6 633.0 L457.4 630.9 L463.3 628.8 L469.2 626.8 L475.1 624.8 L481.0 622.8 L487.0 620.9 L492.9 619.1 L498.9 617.3 L504.9 615.6 L510.8 613.9 L516.8 612.3 L522.8 610.7 L528.8 609.1 L534.9 607.6 L540.9 606.2 L546.9 604.8 L553.0 603.5 L559.0 602.2 L565.1 601.0 L571.2 599.8 L577.2 598.7 L583.3 597.6 L589.4 596.6 L595.5 595.6 L601.6 594.7 L607.7 593.8 L613.9 593.0 L620.0 592.2 L626.1 591.5"/>
<path d="M221.4 1388.6 L221.0 1381.5 L220.6 1374.4 L220.3 1367.3 L220.0 1360.2 L219.8 1353.1 L219.6 1346.0 L219.4 1338.9 L219.3 1331.8 L219.2 1324.7 L219.2 1317.6 L219.2 1310.5 L219.3 1303.4 L219.4 1296.3 L219.6 1289.2 L219.8 1282.1 L220.0 1275.1 L220.3 1268.0 L220.6 1260.9 L221.0 1253.9 L221.4 1246.8 L221.9 1239.8 L222.4 1232.8 L222.9 1225.8 L223.5 1218.8 L224.2 1211.8 L224.9 1204.9 L225.6 1197.9 L226.3 1191.0 L227.2 1184.0 L228.0 1177.1 L228.9 1170.2 L229.8 1163.4 L230.8 1156.5 L231.8 1149.7 L232.9 1142.9 L234.0 1136.1 L235.2 1129.3 L236.3 1122.6 L237.6 1115.9 L238.8 1109.2 L240.2 1102.5 L241.5 1095.9 L242.9 1089.2 L244.3 1082.7 L245.8 1076.1 L247.3 1069.5 L248.9 1063.0 L250.5 1056.6 L252.1 1050.1 L253.8 1043.7 L255.5 1037.3 L257.2 1030.9 L259.0 1024.6 L260.8 1018.3 L262.7 1012.0 L264.6 1005.8 L266.5 999.6 L268.5 993.5 L270.5 987.3 L272.5 981.3 L274.6 975.2 L276.7 969.2 L278.8 963.2 L281.0 957.3 L283.2 951.4 L285.5 945.5 L287.7 939.7 L290.1 933.9 L292.4 928.1 L294.8 922.4 L297.2 916.8 L299.6 911.1 L302.1 905.5 L304.6 900.0 L307.2 894.5 L309.7 889.0 L312.3 883.6 L315.0 878.3 L317.6 872.9 L320.3 867.6 L323.0 862.4 L325.8 857.2 L328.6 852.0 L331.4 846.9 L334.2 841.9 L337.0 836.9 L339.9 831.9 L342.8 827.0 L345.8 822.1 L348.7 817.3 L351.7 812.5 L354.7 807.7 L357.8 803.0 L360.8 798.4 L363.9 793.8 L367.0 789.3 L370.2 784.8 L373.3 780.3 L376.5 775.9 L379.7 771.5 L383.0 767.2 L386.2 763.0 L389.5 758.8 L392.8 754.6 L396.1 750.5 L399.4 746.5 L402.8 742.4 L406.1 738.5 L409.5 734.6 L412.9 730.7 L416.4 726.9 L419.8 723.1 L423.3 719.4 L426.8 715.8 L430.3 712.2 L433.8 708.6 L437.4 705.1 L440.9 701.6 L444.5 698.2 L448.1 694.9 L451.7 691.6 L455.3 688.3 L458.9 685.1 L462.6 682.0 L466.3 678.9 L469.9 675.8 L473.6 672.8 L477.4 669.9 L481.1 667.0 L484.8 664.1 L488.6 661.3 L492.3 658.6 L496.1 655.9 L499.9 653.2 L503.7 650.6 L507.5 648.1 L511.3 645.6 L515.2 643.2 L519.0 640.8 L522.9 638.5 L526.7 636.2 L530.6 633.9 L534.5 631.8 L538.4 629.6 L542.3 627.6 L546.2 625.5 L550.2 623.6 L554.1 621.6 L558.0 619.8 L562.0 617.9 L566.0 616.2 L569.9 614.4 L573.9 612.8 L577.9 611.2 L581.9 609.6 L585.9 608.1 L589.9 606.6 L593.9 605.2 L597.9 603.8 L602.0 602.5 L606.0 601.3 L610.0 600.1 L614.1 598.9 L618.1 597.8 L622.2 596.7 L626.2 595.7 L630.3 594.8 L634.4 593.9 L638.4 593.0 L642.5 592.2 L646.6 591.5 L650.7 590.8 L654.8 590.1 L658.9 589.5 L662.9 589.0 L667.0 588.5 L671.1 588.0 L675.2 587.6 L679.3 587.3 L683.5 587.0 L687.6 586.7 L691.7 586.6"/>
<path d="M1023.6 1383.4 L1023.8 1376.3 L1024.0 1369.2 L1024.2 1362.1 L1024.4 1355.0 L1024.6 1347.9 L1024.7 1340.8 L1024.8 1333.7 L1024.8 1326.6 L1024.9 1319.5 L1024.9 1312.4 L1024.9 1305.3 L1024.8 1298.2 L1024.8 1291.1 L1024.7 1284.0 L1024.6 1276.9 L1024.4 1269.9 L1024.2 1262.8 L1024.1 1255.8 L1023.8 1248.7 L1023.6 1241.7 L1023.3 1234.6 L1023.0 1227.6 L1022.7 1220.6 L1022.3 1213.6 L1022.0 1206.7 L1021.6 1199.7 L1021.1 1192.8 L1020.7 1185.8 L1020.2 1178.9 L1019.7 1172.0 L1019.2 1165.2 L1018.6 1158.3 L1018.0 1151.5 L1017.4 1144.6 L1016.8 1137.8 L1016.1 1131.1 L1015.5 1124.3 L1014.7 1117.6 L1014.0 1110.9 L1013.3 1104.2 L1012.5 1097.5 L1011.7 1090.9 L1010.9 1084.3 L1010.0 1077.7 L1009.1 1071.2 L1008.2 1064.6 L1007.3 1058.1 L1006.4 1051.7 L1005.4 1045.2 L1004.4 1038.8 L1003.4 1032.5 L1002.4 1026.1 L1001.3 1019.8 L1000.2 1013.5 L999.1 1007.3 L998.0 1001.1 L996.9 994.9 L995.7 988.8 L994.5 982.7 L993.3 976.6 L992.1 970.6 L990.8 964.6 L989.5 958.6 L988.2 952.7 L986.9 946.8 L985.6 941.0 L984.2 935.2 L982.9 929.4 L981.5 923.7 L980.0 918.0 L978.6 912.4 L977.2 906.8 L975.7 901.2 L974.2 895.7 L972.7 890.2 L971.2 884.8 L969.6 879.4 L968.1 874.0 L966.5 868.7 L964.9 863.5 L963.3 858.3 L961.6 853.1 L960.0 848.0 L958.3 842.9 L956.6 837.9 L954.9 832.9 L953.2 827.9 L951.5 823.0 L949.8 818.2 L948.0 813.4 L946.2 808.6 L944.4 803.9 L942.6 799.3 L940.8 794.7 L939.0 790.1 L937.1 785.6 L935.3 781.1 L933.4 776.7 L931.5 772.3 L929.6 768.0 L927.7 763.7 L925.7 759.5 L923.8 755.3 L921.8 751.2 L919.9 747.1 L917.9 743.1 L915.9 739.1 L913.9 735.2 L911.9 731.3 L909.8 727.5 L907.8 723.7 L905.8 720.0 L903.7 716.3 L901.6 712.7 L899.5 709.1 L897.4 705.6 L895.3 702.1 L893.2 698.7 L891.1 695.3 L889.0 692.0 L886.8 688.8 L884.7 685.5 L882.5 682.4 L880.3 679.3 L878.2 676.2 L876.0 673.2 L873.8 670.2 L871.6 667.3 L869.4 664.4 L867.1 661.6 L864.9 658.9 L862.7 656.2 L860.4 653.5 L858.2 650.9 L855.9 648.4 L853.6 645.9 L851.4 643.4 L849.1 641.0 L846.8 638.7 L844.5 636.4 L842.2 634.1 L839.9 632.0 L837.6 629.8 L835.3 627.7 L833.0 625.7 L830.6 623.7 L828.3 621.8 L826.0 619.9 L823.6 618.0 L821.3 616.3 L818.9 614.5 L816.5 612.9 L814.2 611.2 L811.8 609.7 L809.4 608.1 L807.1 606.7 L804.7 605.2 L802.3 603.9 L799.9 602.5 L797.5 601.3 L795.1 600.1 L792.7 598.9 L790.3 597.8 L787.9 596.7 L785.5 595.7 L783.1 594.7 L780.7 593.8 L778.2 592.9 L775.8 592.1 L773.4 591.4 L771.0 590.7 L768.5 590.0 L766.1 589.4 L763.7 588.8 L761.2 588.3 L758.8 587.9 L756.4 587.5 L753.9 587.1 L751.5 586.8 L749.1 586.6 L746.6 586.4 L744.2 586.2 L741.7 586.1"/>
<path d="M1360.3 1394.7 L1360.8 1387.6 L1361.3 1380.6 L1361.7 1373.5 L1362.1 1366.4 L1362.4 1359.3 L1362.6 1352.2 L1362.8 1345.1 L1363.0 1338.0 L1363.0 1330.9 L1363.1 1323.8 L1363.0 1316.7 L1363.0 1309.6 L1362.8 1302.5 L1362.6 1295.4 L1362.4 1288.3 L1362.1 1281.2 L1361.7 1274.2 L1361.3 1267.1 L1360.8 1260.0 L1360.3 1253.0 L1359.7 1246.0 L1359.1 1238.9 L1358.4 1231.9 L1357.6 1224.9 L1356.8 1217.9 L1356.0 1211.0 L1355.1 1204.0 L1354.1 1197.1 L1353.1 1190.1 L1352.0 1183.2 L1350.9 1176.3 L1349.7 1169.4 L1348.5 1162.6 L1347.2 1155.7 L1345.8 1148.9 L1344.4 1142.1 L1343.0 1135.3 L1341.5 1128.6 L1339.9 1121.8 L1338.3 1115.1 L1336.7 1108.4 L1335.0 1101.8 L1333.2 1095.1 L1331.4 1088.5 L1329.5 1081.9 L1327.6 1075.4 L1325.7 1068.9 L1323.7 1062.4 L1321.6 1055.9 L1319.5 1049.4 L1317.4 1043.0 L1315.2 1036.7 L1312.9 1030.3 L1310.6 1024.0 L1308.3 1017.7 L1305.9 1011.4 L1303.4 1005.2 L1301.0 999.0 L1298.4 992.9 L1295.8 986.8 L1293.2 980.7 L1290.6 974.7 L1287.9 968.7 L1285.1 962.7 L1282.3 956.8 L1279.5 950.9 L1276.6 945.0 L1273.7 939.2 L1270.7 933.4 L1267.7 927.7 L1264.6 922.0 L1261.6 916.3 L1258.4 910.7 L1255.3 905.1 L1252.1 899.6 L1248.8 894.1 L1245.5 888.7 L1242.2 883.3 L1238.8 877.9 L1235.5 872.6 L1232.0 867.3 L1228.6 862.1 L1225.0 856.9 L1221.5 851.7 L1217.9 846.7 L1214.3 841.6 L1210.7 836.6 L1207.0 831.6 L1203.3 826.7 L1199.5 821.9 L1195.8 817.0 L1192.0 812.3 L1188.1 807.5 L1184.2 802.8 L1180.3 798.2 L1176.4 793.6 L1172.5 789.1 L1168.5 784.6 L1164.4 780.2 L1160.4 775.8 L1156.3 771.4 L1152.2 767.1 L1148.1 762.9 L1143.9 758.7 L1139.7 754.5 L1135.5 750.4 L1131.3 746.4 L1127.0 742.4 L1122.7 738.4 L1118.4 734.5 L1114.1 730.7 L1109.7 726.9 L1105.3 723.1 L1100.9 719.4 L1096.5 715.8 L1092.1 712.2 L1087.6 708.6 L1083.1 705.1 L1078.6 701.7 L1074.0 698.3 L1069.5 694.9 L1064.9 691.6 L1060.3 688.4 L1055.7 685.2 L1051.1 682.0 L1046.4 678.9 L1041.7 675.9 L1037.0 672.9 L1032.3 669.9 L1027.6 667.0 L1022.9 664.2 L1018.1 661.4 L1013.4 658.7 L1008.6 656.0 L1003.8 653.3 L998.9 650.8 L994.1 648.2 L989.3 645.7 L984.4 643.3 L979.5 640.9 L974.6 638.6 L969.7 636.3 L964.8 634.1 L959.9 631.9 L955.0 629.8 L950.0 627.7 L945.0 625.7 L940.1 623.7 L935.1 621.8 L930.1 619.9 L925.1 618.1 L920.1 616.3 L915.0 614.6 L910.0 613.0 L904.9 611.3 L899.9 609.8 L894.8 608.3 L889.8 606.8 L884.7 605.4 L879.6 604.0 L874.5 602.7 L869.4 601.5 L864.3 600.3 L859.2 599.1 L854.0 598.0 L848.9 596.9 L843.8 595.9 L838.6 595.0 L833.5 594.1 L828.3 593.2 L823.2 592.4 L818.0 591.7 L812.9 591.0 L807.7 590.3 L802.5 589.7 L797.3 589.2 L792.2 588.7 L787.0 588.2 L781.8 587.8 L776.6 587.5"/>
<path d="M1526.6 1412.1 L1527.3 1405.0 L1527.9 1398.0 L1528.4 1390.9 L1528.9 1383.8 L1529.3 1376.7 L1529.6 1369.6 L1529.8 1362.5 L1530.0 1355.4 L1530.1 1348.3 L1530.2 1341.2 L1530.1 1334.1 L1530.0 1327.0 L1529.8 1319.9 L1529.6 1312.8 L1529.3 1305.7 L1528.9 1298.7 L1528.4 1291.6 L1527.9 1284.5 L1527.3 1277.4 L1526.6 1270.4 L1525.9 1263.3 L1525.1 1256.3 L1524.2 1249.2 L1523.3 1242.2 L1522.3 1235.2 L1521.2 1228.2 L1520.0 1221.2 L1518.8 1214.3 L1517.5 1207.3 L1516.2 1200.4 L1514.8 1193.4 L1513.3 1186.5 L1511.7 1179.6 L1510.1 1172.7 L1508.4 1165.9 L1506.6 1159.0 L1504.8 1152.2 L1502.9 1145.4 L1501.0 1138.7 L1498.9 1131.9 L1496.8 1125.2 L1494.7 1118.5 L1492.5 1111.8 L1490.2 1105.1 L1487.8 1098.5 L1485.4 1091.9 L1483.0 1085.3 L1480.4 1078.7 L1477.8 1072.2 L1475.2 1065.7 L1472.5 1059.2 L1469.7 1052.8 L1466.8 1046.4 L1463.9 1040.0 L1461.0 1033.6 L1458.0 1027.3 L1454.9 1021.0 L1451.8 1014.8 L1448.6 1008.6 L1445.3 1002.4 L1442.0 996.2 L1438.7 990.1 L1435.2 984.0 L1431.8 978.0 L1428.2 972.0 L1424.7 966.0 L1421.0 960.1 L1417.3 954.2 L1413.6 948.3 L1409.8 942.5 L1406.0 936.7 L1402.1 931.0 L1398.1 925.3 L1394.1 919.6 L1390.1 914.0 L1386.0 908.4 L1381.8 902.9 L1377.6 897.4 L1373.4 891.9 L1369.1 886.5 L1364.8 881.2 L1360.4 875.8 L1356.0 870.6 L1351.5 865.3 L1347.0 860.1 L1342.5 855.0 L1337.9 849.9 L1333.2 844.8 L1328.5 839.8 L1323.8 834.8 L1319.1 829.9 L1314.2 825.0 L1309.4 820.2 L1304.5 815.4 L1299.6 810.7 L1294.6 806.0 L1289.6 801.3 L1284.6 796.7 L1279.5 792.2 L1274.4 787.7 L1269.3 783.2 L1264.1 778.8 L1258.9 774.4 L1253.6 770.1 L1248.4 765.9 L1243.0 761.7 L1237.7 757.5 L1232.3 753.4 L1226.9 749.3 L1221.5 745.3 L1216.0 741.3 L1210.5 737.4 L1205.0 733.5 L1199.4 729.7 L1193.8 725.9 L1188.2 722.2 L1182.6 718.5 L1176.9 714.9 L1171.2 711.3 L1165.5 707.8 L1159.7 704.3 L1153.9 700.9 L1148.1 697.5 L1142.3 694.2 L1136.5 690.9 L1130.6 687.7 L1124.7 684.5 L1118.8 681.4 L1112.9 678.3 L1106.9 675.3 L1100.9 672.4 L1094.9 669.4 L1088.9 666.6 L1082.9 663.7 L1076.8 661.0 L1070.7 658.3 L1064.6 655.6 L1058.5 653.0 L1052.4 650.4 L1046.2 647.9 L1040.1 645.4 L1033.9 643.0 L1027.7 640.7 L1021.5 638.3 L1015.2 636.1 L1009.0 633.9 L1002.7 631.7 L996.4 629.6 L990.1 627.5 L983.8 625.5"/>
</g>
<path d="M606.7 1381.1 L606.6 1374.0 L606.5 1367.0 L606.4 1359.8 L606.4 1352.7 L606.3 1345.6 L606.3 1338.5 L606.2 1331.4 L606.2 1324.3 L606.2 1317.2 L606.2 1310.1 L606.2 1303.0 L606.2 1295.9 L606.3 1288.8 L606.3 1281.8 L606.3 1274.7 L606.4 1267.6 L606.5 1260.6 L606.5 1253.5 L606.6 1246.5 L606.7 1239.4 L606.8 1232.4 L607.0 1225.4 L607.1 1218.4 L607.2 1211.4 L607.4 1204.4 L607.5 1197.5 L607.7 1190.5 L607.9 1183.6 L608.1 1176.7 L608.3 1169.8 L608.5 1162.9 L608.7 1156.1 L608.9 1149.2 L609.2 1142.4 L609.4 1135.6 L609.7 1128.9 L610.0 1122.1 L610.2 1115.4 L610.5 1108.7 L610.8 1102.0 L611.1 1095.4 L611.4 1088.7 L611.8 1082.1 L612.1 1075.6 L612.5 1069.0 L612.8 1062.5 L613.2 1056.0 L613.5 1049.6 L613.9 1043.1 L614.3 1036.7 L614.7 1030.4 L615.1 1024.0 L615.5 1017.7 L616.0 1011.5 L616.4 1005.2 L616.9 999.0 L617.3 992.9 L617.8 986.7 L618.2 980.6 L618.7 974.6 L619.2 968.6 L619.7 962.6 L620.2 956.6 L620.7 950.7 L621.2 944.8 L621.8 939.0 L622.3 933.2 L622.8 927.5 L623.4 921.7 L623.9 916.1 L624.5 910.4 L625.1 904.9 L625.7 899.3 L626.2 893.8 L626.8 888.3 L627.4 882.9 L628.1 877.5 L628.7 872.2 L629.3 866.9 L629.9 861.7 L630.6 856.5 L631.2 851.3 L631.9 846.2 L632.5 841.1 L633.2 836.1 L633.8 831.1 L634.5 826.2 L635.2 821.3 L635.9 816.5 L636.6 811.7 L637.3 807.0 L638.0 802.3 L638.7 797.6 L639.4 793.0 L640.1 788.5 L640.9 784.0 L641.6 779.5 L642.3 775.1 L643.1 770.8 L643.8 766.5 L644.6 762.2 L645.4 758.0 L646.1 753.8 L646.9 749.7 L647.7 745.7 L648.5 741.6 L649.2 737.7 L650.0 733.8 L650.8 729.9 L651.6 726.1 L652.4 722.3 L653.2 718.6 L654.0 715.0 L654.9 711.4 L655.7 707.8 L656.5 704.3 L657.3 700.9 L658.2 697.4 L659.0 694.1 L659.9 690.8 L660.7 687.5 L661.5 684.3 L662.4 681.2 L663.3 678.1 L664.1 675.0 L665.0 672.0 L665.8 669.1 L666.7 666.2 L667.6 663.4 L668.5 660.6 L669.3 657.8 L670.2 655.1 L671.1 652.5 L672.0 649.9 L672.9 647.4 L673.8 644.9 L674.7 642.5 L675.6 640.1 L676.5 637.8 L677.4 635.5 L678.3 633.3 L679.2 631.1 L680.1 629.0 L681.0 626.9 L681.9 624.9 L682.8 622.9 L683.8 621.0 L684.7 619.1 L685.6 617.3 L686.5 615.5 L687.5 613.8 L688.4 612.2 L689.3 610.6 L690.3 609.0 L691.2 607.5 L692.1 606.0 L693.1 604.6 L694.0 603.3 L694.9 602.0 L695.9 600.7 L696.8 599.5 L697.8 598.4 L698.7 597.3 L699.7 596.2 L700.6 595.2 L701.6 594.3 L702.5 593.4 L703.5 592.5 L704.4 591.8 L705.4 591.0 L706.3 590.3 L707.3 589.7 L708.2 589.1 L709.2 588.6 L710.2 588.1 L711.1 587.6 L712.1 587.2 L713.0 586.9 L714.0 586.6 L715.0 586.4 L715.9 586.2 L716.9 586.1 L717.9 586.0 L718.8 585.9" fill="none" stroke="#e04200" stroke-width="2.9"/>
</g>
<g id="txt" opacity="0.999">
<text transform="translate(88.9 155.9) scale(0.97 1.035)" font-size="37.4">10</text>
<text transform="translate(109.2 402.9) scale(0.97 1.035)" font-size="37.4">5</text>
<text transform="translate(109.0 649.9) scale(0.97 1.035)" font-size="37.4">0</text>
<text transform="translate(97.1 896.9) scale(0.97 1.035)" font-size="37.4">-5</text>
<text transform="translate(76.7 1143.9) scale(0.97 1.035)" font-size="37.4">-10</text>
<text transform="translate(236.7 1300.3) scale(0.97 1.035)" font-size="37.4">-10</text>
<text transform="translate(494.1 1300.3) scale(0.97 1.035)" font-size="37.4">-5</text>
<text transform="translate(745.8 1300.3) scale(0.97 1.035)" font-size="37.4">0</text>
<text transform="translate(992.9 1300.3) scale(0.97 1.035)" font-size="37.4">5</text>
<text transform="translate(1228.7 1300.3) scale(0.97 1.035)" font-size="37.4">10</text>
<text transform="translate(672.0 1339.0) scale(0.97 1.035)" font-size="37.4">X (arcsec)</text>
<text transform="translate(47.0 721.1) rotate(-90) scale(0.97 1.035)" font-size="37.4">Y (arcsec)</text>
<text transform="translate(1389.6 63.2) scale(1 1.035)" font-size="53.6">Jupiter</text>
<text transform="translate(1388.9 132.8) scale(1 1.035)" font-size="33.3">Date : 2016-12-02</text>
<text transform="translate(1389.1 174.7) scale(1 1.035)" font-size="33.3">17:26:51 (Earth)</text>
<text transform="translate(1389.1 216.7) scale(1 1.035)" font-size="33.3">16:37:08 (Target)</text>
<text transform="translate(1388.0 283.6) scale(1 1.035)" font-size="30.2">Ephemeris :</text>
<rect x="1388.3" y="293.2" width="168.3" height="1.7" fill="#000"/>
<text transform="translate(1388.6 328.6) scale(1 1.035)" font-size="30.2">d (UA)</text>
<text transform="translate(1508.1 328.6) scale(1 1.035)" font-size="30.2">=</text>
<text transform="translate(1535.0 328.6) scale(1 1.035)" font-size="30.2">5.97</text>
<text transform="translate(1389.3 370.8) scale(1.1 1)" font-size="31" class="sym">λ</text>
<text transform="translate(1408.9 374.6) scale(1 1.035)" font-size="13">sub-Earth</text>
<text transform="translate(1475.7 370.8) scale(1 1.035)" font-size="30.2">(</text>
<text transform="translate(1484.5 358.2) scale(1 1.035)" font-size="12.6">o</text>
<text transform="translate(1491.4 370.8) scale(1 1.035)" font-size="30.2">)</text>
<text transform="translate(1509.5 370.8) scale(1 1.035)" font-size="30.2">=</text>
<text transform="translate(1535.4 370.8) scale(1 1.035)" font-size="30.2">-2.58</text>
<text transform="translate(1388.7 412.8) scale(1.2 1)" font-size="31" class="sym">α</text>
<text transform="translate(1412.3 416.6) scale(1 1.035)" font-size="13">Earth-Sun</text>
<text transform="translate(1479.6 412.8) scale(1 1.035)" font-size="30.2">(</text>
<text transform="translate(1488.4 400.2) scale(1 1.035)" font-size="12.6">o</text>
<text transform="translate(1495.3 412.8) scale(1 1.035)" font-size="30.2">)</text>
<text transform="translate(1514.5 412.8) scale(1 1.035)" font-size="30.2">=</text>
<text transform="translate(1540.4 412.8) scale(1 1.035)" font-size="30.2">8.39</text>
<text transform="translate(1388.3 454.8) scale(1 1.035)" font-size="30.2">CML</text>
<text transform="translate(1456.0 458.6) scale(1 1.035)" font-size="13">SIII</text>
<text transform="translate(1484.5 454.8) scale(1 1.035)" font-size="30.2">(</text>
<text transform="translate(1493.3 442.2) scale(1 1.035)" font-size="12.6">o</text>
<text transform="translate(1500.2 454.8) scale(1 1.035)" font-size="30.2">)</text>
<text transform="translate(1519.6 454.8) scale(1 1.035)" font-size="30.2">=</text>
<text transform="translate(1547.4 454.8) scale(1 1.035)" font-size="30.2">146</text>
<text transform="translate(1388.8 496.8) scale(1 1.035)" font-size="30.2">LT</text>
<text transform="translate(1428.2 500.6) scale(1 1.035)" font-size="13">Io</text>
<text transform="translate(1448.4 496.8) scale(1 1.035)" font-size="30.2">(h)</text>
<text transform="translate(1491.6 496.8) scale(1 1.035)" font-size="30.2">=</text>
<text transform="translate(1517.1 496.8) scale(1 1.035)" font-size="30.2">20.7</text>
<text transform="translate(1388.4 564.0) scale(1 1.035)" font-size="30.2" fill="#999999">HST Imaging :</text>
<rect x="1388.3" y="573.3" width="202" height="1.7" fill="#999999"/>
<text transform="translate(1389.4 608.5) scale(1 1.035)" font-size="30.2" fill="#999999">STIS/FUV-MAMA</text>
<text transform="translate(1388.7 650.3) scale(1 1.035)" font-size="30.2" fill="#999999">Filter : F25SRF2</text>
<text transform="translate(1388.4 692.5) scale(1 1.035)" font-size="30.2" fill="#999999">Int. time (s) = 100</text>
<text transform="translate(1388.7 734.5) scale(1 1.035)" font-size="30.2" fill="#999999">FOV (") = 53.82</text>
<text transform="translate(1388.7 776.5) scale(1 1.035)" font-size="30.2" fill="#999999">Data : od8k22c15</text>
<text transform="translate(1425.1 929.6) scale(1 1.035)" font-size="37">Flux</text>
<rect x="1436.6" y="945.4" width="47.3" height="306.6" fill="url(#cbar)" stroke="#000" stroke-width="2.4"/>
<text transform="translate(1492.3 962.4) scale(1 1.035)" font-size="30.3">0.10</text>
<text transform="translate(1492.3 1017.6) scale(1 1.035)" font-size="30.3">0.08</text>
<text transform="translate(1492.3 1079.2) scale(1 1.035)" font-size="30.3">0.06</text>
<text transform="translate(1492.3 1140.9) scale(1 1.035)" font-size="30.3">0.04</text>
<text transform="translate(1492.3 1202.6) scale(1 1.035)" font-size="30.3">0.02</text>
<text transform="translate(1492.3 1253.0) scale(1 1.035)" font-size="30.3">0.00</text>
<path d="M1437.8 1252.0 h4.6 M1482.7 1252.0 h-4.6 M1437.8 1236.7 h2.6 M1482.7 1236.7 h-2.6 M1437.8 1221.3 h2.6 M1482.7 1221.3 h-2.6 M1437.8 1206.0 h2.6 M1482.7 1206.0 h-2.6 M1437.8 1190.7 h4.6 M1482.7 1190.7 h-4.6 M1437.8 1175.3 h2.6 M1482.7 1175.3 h-2.6 M1437.8 1160.0 h2.6 M1482.7 1160.0 h-2.6 M1437.8 1144.7 h2.6 M1482.7 1144.7 h-2.6 M1437.8 1129.4 h4.6 M1482.7 1129.4 h-4.6 M1437.8 1114.0 h2.6 M1482.7 1114.0 h-2.6 M1437.8 1098.7 h2.6 M1482.7 1098.7 h-2.6 M1437.8 1083.4 h2.6 M1482.7 1083.4 h-2.6 M1437.8 1068.0 h4.6 M1482.7 1068.0 h-4.6 M1437.8 1052.7 h2.6 M1482.7 1052.7 h-2.6 M1437.8 1037.4 h2.6 M1482.7 1037.4 h-2.6 M1437.8 1022.0 h2.6 M1482.7 1022.0 h-2.6 M1437.8 1006.7 h4.6 M1482.7 1006.7 h-4.6 M1437.8 991.4 h2.6 M1482.7 991.4 h-2.6 M1437.8 976.1 h2.6 M1482.7 976.1 h-2.6 M1437.8 960.7 h2.6 M1482.7 960.7 h-2.6 M1437.8 945.4 h4.6 M1482.7 945.4 h-4.6 M1440.0 946.6 v2.4 M1442.3 946.6 v2.4 M1444.5 946.6 v2.4 M1446.8 946.6 v4.6 M1449.0 946.6 v2.4 M1451.3 946.6 v2.4 M1453.5 946.6 v2.4 M1455.8 946.6 v4.6 M1458.0 946.6 v2.4 M1460.2 946.6 v2.4 M1462.5 946.6 v2.4 M1464.7 946.6 v4.6 M1467.0 946.6 v2.4 M1469.2 946.6 v2.4 M1471.5 946.6 v2.4 M1473.7 946.6 v4.6 M1476.0 946.6 v2.4 M1478.2 946.6 v2.4 M1480.5 946.6 v2.4" stroke="#000" stroke-width="1.2" fill="none"/>
<text transform="translate(1418.2 1170.4) rotate(-90) scale(1 1.035)" font-size="30.3">(counts.s<tspan font-size="13.3" dy="-14.5">-1</tspan><tspan dy="14.5">)</tspan></text>
</g>
</svg>
</body></html>
